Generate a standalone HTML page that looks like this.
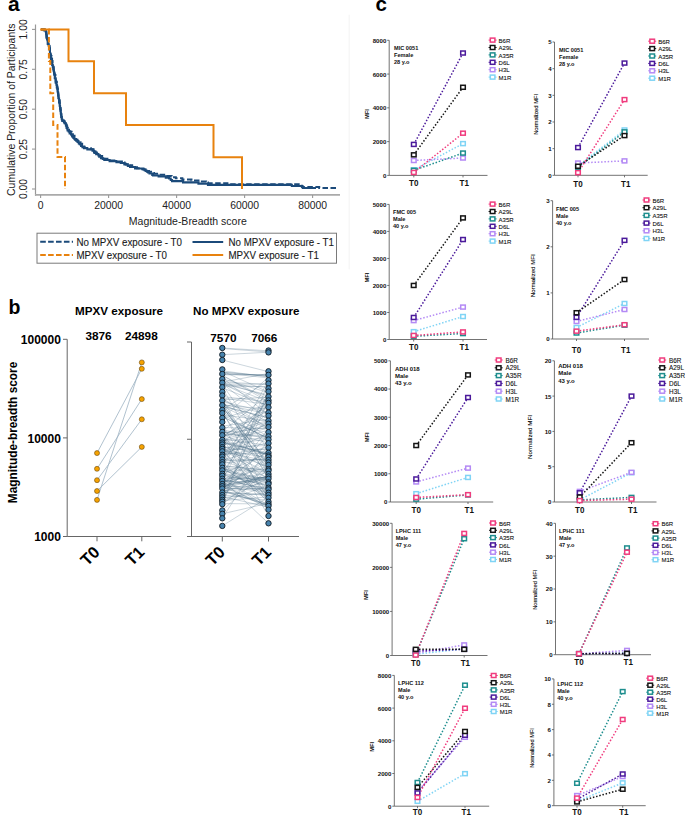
<!DOCTYPE html><html><head><meta charset="utf-8"><style>html,body{margin:0;padding:0;background:#fff;}svg{display:block;}text{font-family:"Liberation Sans",sans-serif;}</style></head><body>
<svg width="685" height="816" viewBox="0 0 685 816">
<rect width="685" height="816" fill="#fff"/>
<line x1="349.2" y1="14.7" x2="349.2" y2="269.4" stroke="#f3f3f3" stroke-width="1"/>
<text x="8.00" y="11.10" font-size="21" text-anchor="start" font-weight="bold" fill="#000" >a</text>
<line x1="35.50" y1="24.50" x2="35.50" y2="195.80" stroke="#999" stroke-width="1.2" />
<line x1="35.00" y1="194.90" x2="340.00" y2="194.90" stroke="#aaa" stroke-width="1.8" />
<line x1="32.00" y1="29.40" x2="35.50" y2="29.40" stroke="#999" stroke-width="1.1" />
<text transform="translate(27.4,29.40) rotate(-90)" font-size="10.4" text-anchor="middle" fill="#222">1.00</text>
<line x1="32.00" y1="69.30" x2="35.50" y2="69.30" stroke="#999" stroke-width="1.1" />
<text transform="translate(27.4,69.30) rotate(-90)" font-size="10.4" text-anchor="middle" fill="#222">0.75</text>
<line x1="32.00" y1="109.20" x2="35.50" y2="109.20" stroke="#999" stroke-width="1.1" />
<text transform="translate(27.4,109.20) rotate(-90)" font-size="10.4" text-anchor="middle" fill="#222">0.50</text>
<line x1="32.00" y1="149.10" x2="35.50" y2="149.10" stroke="#999" stroke-width="1.1" />
<text transform="translate(27.4,149.10) rotate(-90)" font-size="10.4" text-anchor="middle" fill="#222">0.25</text>
<line x1="32.00" y1="189.00" x2="35.50" y2="189.00" stroke="#999" stroke-width="1.1" />
<text transform="translate(27.4,189.00) rotate(-90)" font-size="10.4" text-anchor="middle" fill="#222">0.00</text>
<line x1="40.60" y1="195.00" x2="40.60" y2="198.00" stroke="#999" stroke-width="1.1" />
<text x="40.60" y="208.60" font-size="10.4" text-anchor="middle" font-weight="normal" fill="#222" >0</text>
<line x1="108.60" y1="195.00" x2="108.60" y2="198.00" stroke="#999" stroke-width="1.1" />
<text x="108.60" y="208.60" font-size="10.4" text-anchor="middle" font-weight="normal" fill="#222" >20000</text>
<line x1="176.60" y1="195.00" x2="176.60" y2="198.00" stroke="#999" stroke-width="1.1" />
<text x="176.60" y="208.60" font-size="10.4" text-anchor="middle" font-weight="normal" fill="#222" >40000</text>
<line x1="244.60" y1="195.00" x2="244.60" y2="198.00" stroke="#999" stroke-width="1.1" />
<text x="244.60" y="208.60" font-size="10.4" text-anchor="middle" font-weight="normal" fill="#222" >60000</text>
<line x1="312.60" y1="195.00" x2="312.60" y2="198.00" stroke="#999" stroke-width="1.1" />
<text x="312.60" y="208.60" font-size="10.4" text-anchor="middle" font-weight="normal" fill="#222" >80000</text>
<text x="187.80" y="225.10" font-size="10.5" text-anchor="middle" font-weight="normal" fill="#222" >Magnitude-Breadth score</text>
<text transform="translate(15.3,109.8) rotate(-90)" font-size="10.45" text-anchor="middle" fill="#222">Cumulative Proportion of Participants</text>
<path d="M41.00,29.40 L43.80,29.40 L43.80,30.24 L45.79,30.24 L45.79,31.19 L45.79,31.19 L45.79,32.35 L46.42,32.35 L46.42,33.00 L46.42,33.00 L46.42,33.86 L46.57,33.86 L46.57,35.34 L46.87,35.34 L46.87,36.68 L46.87,36.68 L46.87,37.86 L47.78,37.86 L47.78,39.04 L47.89,39.04 L47.89,40.11 L47.89,40.11 L47.89,41.32 L48.28,41.32 L48.28,42.60 L48.28,42.60 L48.28,43.49 L48.64,43.49 L48.64,44.86 L49.30,44.86 L49.30,46.11 L49.58,46.11 L49.58,47.35 L49.66,47.35 L49.66,48.32 L49.99,48.32 L49.99,49.33 L49.99,49.33 L49.99,50.71 L49.99,50.71 L49.99,51.46 L50.20,51.46 L50.20,52.92 L50.30,52.92 L50.30,54.09 L50.60,54.09 L50.60,55.15 L50.97,55.15 L50.97,56.09 L51.50,56.09 L51.50,57.22 L51.75,57.22 L51.75,58.43 L52.06,58.43 L52.06,59.79 L52.06,59.79 L52.06,61.00 L52.51,61.00 L52.51,62.37 L52.51,62.37 L52.51,63.77 L52.51,63.77 L52.51,65.01 L52.92,65.01 L52.92,66.35 L52.92,66.35 L52.92,67.23 L53.79,67.23 L53.79,68.59 L53.79,68.59 L53.79,69.30 L53.79,69.30 L53.79,70.28 L54.10,70.28 L54.10,71.17 L54.10,71.17 L54.10,72.55 L54.10,72.55 L54.10,73.70 L54.47,73.70 L54.47,74.95 L55.42,74.95 L55.42,76.33 L55.66,76.33 L55.66,77.40 L55.66,77.40 L55.66,78.29 L55.66,78.29 L55.66,79.44 L55.69,79.44 L55.69,80.24 L55.69,80.24 L55.69,81.40 L56.51,81.40 L56.51,82.07 L56.77,82.07 L56.77,82.97 L56.77,82.97 L56.77,84.37 L56.79,84.37 L56.79,85.39 L57.09,85.39 L57.09,86.57 L57.32,86.57 L57.32,87.68 L57.48,87.68 L57.48,89.12 L57.87,89.12 L57.87,90.12 L57.87,90.12 L57.87,90.96 L58.00,90.96 L58.00,92.42 L58.00,92.42 L58.00,93.52 L58.35,93.52 L58.35,94.51 L58.48,94.51 L58.48,95.16 L58.48,95.16 L58.48,96.34 L58.67,96.34 L58.67,97.50 L58.73,97.50 L58.73,98.72 L59.29,98.72 L59.29,99.95 L59.29,99.95 L59.29,100.61 L59.80,100.61 L59.80,101.82 L59.80,101.82 L59.80,102.67 L59.80,102.67 L59.80,103.80 L59.80,103.80 L59.80,104.75 L60.03,104.75 L60.03,105.70 L60.03,105.70 L60.03,106.59 L60.03,106.59 L60.03,107.88 L60.67,107.88 L60.67,109.00 L60.67,109.00 L60.67,109.90 L60.67,109.90 L60.67,111.21 L60.80,111.21 L60.80,112.01 L60.80,112.01 L60.80,113.24 L60.99,113.24 L60.99,114.15 L61.28,114.15 L61.28,115.49 L61.28,115.49 L61.28,116.85 L61.81,116.85 L61.81,117.77 L61.81,117.77 L61.81,119.16 L61.81,119.16 L61.81,119.99 L62.56,119.99 L62.56,121.07 L64.53,121.07 L64.53,122.39 L64.76,122.39 L64.76,123.18 L66.21,123.18 L66.21,124.50 L66.45,124.50 L66.45,125.82 L66.70,125.82 L66.70,126.57 L67.21,126.57 L67.21,127.88 L67.73,127.88 L67.73,128.81 L68.13,128.81 L68.13,129.80 L69.02,129.80 L69.02,131.22 L70.37,131.22 L70.37,131.86 L71.62,131.86 L71.62,133.24 L72.45,133.24 L72.45,134.24 L72.88,134.24 L72.88,135.67 L74.53,135.67 L74.53,136.93 L75.19,136.93 L75.19,138.13 L75.73,138.13 L75.73,139.01 L76.14,139.01 L76.14,139.84 L77.44,139.84 L77.44,140.98 L78.50,140.98 L78.50,142.30 L80.52,142.30 L80.52,143.70 L82.14,143.70 L82.14,145.12 L83.42,145.12 L83.42,146.52 L84.33,146.52 L84.33,147.17 L84.78,147.17 L84.78,147.95 L90.68,147.95 L90.68,149.15 L93.55,149.15 L93.55,150.13 L94.07,150.13 L94.07,151.29 L95.41,151.29 L95.41,152.14 L96.53,152.14 L96.53,153.18 L97.11,153.18 L97.11,154.11 L99.08,154.11 L99.08,155.20 L100.03,155.20 L100.03,155.99 L102.17,155.99 L102.17,157.40 L103.64,157.40 L103.64,158.74 L107.40,158.74 L107.40,159.91 L109.99,159.91 L109.99,160.58 L117.35,160.58 L117.35,161.45 L121.90,161.45 L121.90,162.44 L124.56,162.44 L124.56,163.74 L126.02,163.74 L126.02,164.42 L127.42,164.42 L127.42,165.16 L132.15,165.16 L132.15,166.62 L134.12,166.62 L134.12,167.33 L136.99,167.33 L136.99,168.24 L140.76,168.24 L140.76,169.17 L144.55,169.17 L144.55,170.30 L146.72,170.30 L146.72,171.10 L148.99,171.10 L148.99,171.84 L152.24,171.84 L152.24,173.09 L153.98,173.09 L153.98,173.79 L158.95,173.79 L158.95,174.74 L165.27,174.74 L165.27,176.04 L171.63,176.04 L171.63,177.36 L175.81,177.36 L175.81,178.36 L182.34,178.36 L182.34,179.42 L191.48,179.42 L191.48,180.41 L201.87,180.41 L201.87,181.44 L206.13,181.44 L206.13,182.53 L207.98,182.53 L207.98,183.22 L227.38,183.22 L227.38,184.22 L300.27,184.22 L300.27,185.65 L301.90,185.65 L301.90,187.05 L319.22,187.05 L319.22,187.91 L336.31,187.91 L336.31,188.30 L336.00,188.30" fill="none" stroke="#1B4A7A" stroke-width="2" stroke-dasharray="5.5 2.5"/>
<path d="M41.00,29.40 L44.73,29.40 L44.73,30.56 L45.88,30.56 L45.88,31.87 L46.14,31.87 L46.14,33.14 L46.14,33.14 L46.14,33.80 L46.32,33.80 L46.32,35.23 L46.32,35.23 L46.32,36.63 L46.46,36.63 L46.46,37.67 L47.02,37.67 L47.02,38.77 L47.02,38.77 L47.02,39.41 L47.70,39.41 L47.70,40.29 L47.70,40.29 L47.70,41.57 L47.70,41.57 L47.70,42.88 L47.74,42.88 L47.74,44.04 L48.61,44.04 L48.61,44.68 L48.61,44.68 L48.61,45.49 L49.06,45.49 L49.06,46.96 L49.32,46.96 L49.32,47.84 L49.32,47.84 L49.32,48.94 L49.68,48.94 L49.68,49.75 L49.95,49.75 L49.95,50.97 L49.95,50.97 L49.95,52.36 L49.95,52.36 L49.95,53.30 L49.95,53.30 L49.95,54.06 L50.37,54.06 L50.37,54.96 L50.57,54.96 L50.57,55.59 L50.57,55.59 L50.57,56.52 L50.79,56.52 L50.79,57.85 L50.96,57.85 L50.96,58.75 L50.96,58.75 L50.96,59.98 L51.00,59.98 L51.00,61.45 L52.06,61.45 L52.06,62.72 L52.12,62.72 L52.12,63.37 L52.12,63.37 L52.12,64.32 L52.12,64.32 L52.12,64.96 L52.78,64.96 L52.78,65.75 L52.78,65.75 L52.78,66.55 L53.22,66.55 L53.22,67.98 L53.22,67.98 L53.22,68.91 L53.46,68.91 L53.46,69.99 L53.59,69.99 L53.59,70.71 L53.97,70.71 L53.97,72.03 L54.20,72.03 L54.20,72.69 L54.20,72.69 L54.20,73.41 L54.57,73.41 L54.57,74.56 L54.78,74.56 L54.78,75.48 L54.78,75.48 L54.78,76.58 L54.78,76.58 L54.78,77.49 L54.78,77.49 L54.78,78.19 L55.70,78.19 L55.70,79.41 L55.70,79.41 L55.70,80.18 L55.70,80.18 L55.70,81.66 L55.70,81.66 L55.70,82.64 L56.39,82.64 L56.39,83.78 L56.39,83.78 L56.39,84.80 L56.80,84.80 L56.80,85.48 L56.80,85.48 L56.80,86.15 L56.80,86.15 L56.80,87.49 L57.45,87.49 L57.45,88.75 L57.51,88.75 L57.51,89.92 L57.51,89.92 L57.51,90.65 L57.77,90.65 L57.77,91.41 L57.77,91.41 L57.77,92.29 L58.12,92.29 L58.12,93.78 L58.12,93.78 L58.12,95.24 L58.36,95.24 L58.36,96.29 L58.36,96.29 L58.36,97.33 L58.36,97.33 L58.36,98.31 L59.04,98.31 L59.04,99.27 L59.04,99.27 L59.04,100.72 L59.04,100.72 L59.04,101.78 L59.04,101.78 L59.04,102.49 L59.61,102.49 L59.61,103.79 L59.67,103.79 L59.67,104.73 L59.78,104.73 L59.78,106.02 L60.03,106.02 L60.03,107.22 L60.12,107.22 L60.12,108.17 L60.12,108.17 L60.12,109.04 L60.42,109.04 L60.42,110.33 L60.80,110.33 L60.80,111.21 L60.80,111.21 L60.80,112.40 L60.80,112.40 L60.80,113.05 L60.90,113.05 L60.90,113.90 L61.18,113.90 L61.18,114.92 L61.33,114.92 L61.33,116.11 L61.33,116.11 L61.33,117.04 L61.66,117.04 L61.66,118.30 L61.81,118.30 L61.81,119.24 L62.20,119.24 L62.20,120.61 L63.93,120.61 L63.93,122.07 L64.58,122.07 L64.58,123.15 L65.66,123.15 L65.66,123.92 L65.91,123.92 L65.91,125.36 L66.58,125.36 L66.58,126.58 L66.58,126.58 L66.58,127.83 L67.33,127.83 L67.33,129.13 L67.59,129.13 L67.59,130.33 L68.62,130.33 L68.62,131.50 L69.62,131.50 L69.62,132.67 L69.65,132.67 L69.65,133.33 L71.05,133.33 L71.05,134.34 L71.80,134.34 L71.80,135.16 L72.13,135.16 L72.13,136.33 L73.18,136.33 L73.18,137.37 L73.65,137.37 L73.65,138.05 L74.45,138.05 L74.45,138.96 L74.97,138.96 L74.97,139.76 L76.17,139.76 L76.17,140.79 L77.53,140.79 L77.53,141.94 L78.68,141.94 L78.68,142.78 L78.82,142.78 L78.82,143.42 L79.70,143.42 L79.70,144.29 L80.85,144.29 L80.85,145.02 L81.05,145.02 L81.05,145.98 L82.44,145.98 L82.44,147.13 L83.94,147.13 L83.94,148.23 L87.35,148.23 L87.35,149.36 L92.49,149.36 L92.49,150.69 L94.00,150.69 L94.00,152.01 L94.41,152.01 L94.41,152.96 L96.19,152.96 L96.19,154.11 L98.40,154.11 L98.40,155.55 L99.21,155.55 L99.21,156.71 L100.96,156.71 L100.96,158.10 L102.76,158.10 L102.76,158.83 L104.30,158.83 L104.30,159.98 L109.60,159.98 L109.60,161.15 L116.45,161.15 L116.45,162.11 L120.76,162.11 L120.76,162.94 L124.46,162.94 L124.46,164.40 L127.84,164.40 L127.84,165.85 L130.06,165.85 L130.06,166.99 L135.10,166.99 L135.10,168.46 L143.45,168.46 L143.45,169.45 L145.71,169.45 L145.71,170.92 L146.94,170.92 L146.94,171.80 L148.13,171.80 L148.13,172.53 L149.50,172.53 L149.50,173.55 L152.24,173.55 L152.24,174.85 L153.05,174.85 L153.05,175.49 L158.62,175.49 L158.62,176.36 L165.78,176.36 L165.78,177.66 L169.17,177.66 L169.17,178.52 L170.73,178.52 L170.73,180.00 L172.03,180.00 L172.03,181.15 L183.05,181.15 L183.05,182.33 L198.44,182.33 L198.44,183.60 L207.96,183.60 L207.96,184.88 L291.82,184.88 L291.82,185.97 L302.46,185.97 L302.46,186.86 L302.80,186.86 L302.80,187.89 L303.09,187.89 L303.09,188.00 L316.00,188.00" fill="none" stroke="#1B4A7A" stroke-width="2.1"/>
<path d="M40.4,29.4 H68.5 V61.3 H94 V93.2 H126 V125 H213.5 V157.2 H242 V189" fill="none" stroke="#E8820E" stroke-width="2"/>
<path d="M40.4,29.4 H48.9 V61 H50.3 V93.2 H53.2 V125 H57.5 V157 H65 V189" fill="none" stroke="#E8820E" stroke-width="2" stroke-dasharray="5.5 2.5"/>
<rect x="37" y="233.2" width="299.5" height="30" fill="none" stroke="#7a7a7a" stroke-width="1"/>
<line x1="40.20" y1="241.80" x2="73.00" y2="241.80" stroke="#1B4A7A" stroke-width="2" stroke-dasharray="5.6 2.3"/>
<line x1="40.20" y1="254.90" x2="73.00" y2="254.90" stroke="#E8820E" stroke-width="2" stroke-dasharray="5.6 2.3"/>
<line x1="192.50" y1="242.00" x2="223.20" y2="242.00" stroke="#1B4A7A" stroke-width="2" />
<line x1="192.50" y1="255.00" x2="223.20" y2="255.00" stroke="#E8820E" stroke-width="2" />
<text x="76.50" y="246.30" font-size="10.3" text-anchor="start" font-weight="normal" fill="#1a1a1a" textLength="105.48" lengthAdjust="spacingAndGlyphs" stroke="#1a1a1a" stroke-width="0.12">No MPXV exposure - T0</text>
<text x="76.50" y="259.10" font-size="10.3" text-anchor="start" font-weight="normal" fill="#1a1a1a" textLength="90.31" lengthAdjust="spacingAndGlyphs" stroke="#1a1a1a" stroke-width="0.12">MPXV exposure - T0</text>
<text x="228.50" y="246.30" font-size="10.3" text-anchor="start" font-weight="normal" fill="#1a1a1a" textLength="105.48" lengthAdjust="spacingAndGlyphs" stroke="#1a1a1a" stroke-width="0.12">No MPXV exposure - T1</text>
<text x="228.50" y="259.10" font-size="10.3" text-anchor="start" font-weight="normal" fill="#1a1a1a" textLength="90.31" lengthAdjust="spacingAndGlyphs" stroke="#1a1a1a" stroke-width="0.12">MPXV exposure - T1</text>
<text x="8.50" y="313.70" font-size="19.5" text-anchor="start" font-weight="bold" fill="#000" >b</text>
<line x1="67.20" y1="339.30" x2="67.20" y2="536.50" stroke="#666" stroke-width="1" />
<line x1="67.20" y1="536.50" x2="171.20" y2="536.50" stroke="#666" stroke-width="1" />
<line x1="63.00" y1="339.30" x2="67.20" y2="339.30" stroke="#666" stroke-width="1" />
<text x="60.90" y="344.00" font-size="12" text-anchor="end" font-weight="bold" fill="#000" >100000</text>
<line x1="63.00" y1="437.90" x2="67.20" y2="437.90" stroke="#666" stroke-width="1" />
<text x="60.90" y="442.60" font-size="12" text-anchor="end" font-weight="bold" fill="#000" >10000</text>
<line x1="63.00" y1="536.50" x2="67.20" y2="536.50" stroke="#666" stroke-width="1" />
<text x="60.90" y="541.20" font-size="12" text-anchor="end" font-weight="bold" fill="#000" >1000</text>
<line x1="97.00" y1="536.50" x2="97.00" y2="541.30" stroke="#666" stroke-width="1" />
<line x1="141.80" y1="536.50" x2="141.80" y2="541.30" stroke="#666" stroke-width="1" />
<text transform="translate(16.7,432.5) rotate(-90)" font-size="11.85" font-weight="bold" text-anchor="middle">Magnitude-breadth score</text>
<text x="119.10" y="314.70" font-size="11.2" text-anchor="middle" font-weight="bold" fill="#000" textLength="88" lengthAdjust="spacingAndGlyphs">MPXV exposure</text>
<text x="98.50" y="339.80" font-size="11.8" text-anchor="middle" font-weight="bold" fill="#000" >3876</text>
<text x="141.30" y="339.80" font-size="11.8" text-anchor="middle" font-weight="bold" fill="#000" >24898</text>
<text transform="translate(100.8,553.2) rotate(-45)" font-size="16.5" font-weight="bold" text-anchor="end">T0</text>
<text transform="translate(145.6,553.2) rotate(-45)" font-size="16.5" font-weight="bold" text-anchor="end">T1</text>
<line x1="97.00" y1="453.10" x2="141.80" y2="368.80" stroke="#9db3c3" stroke-width="0.8" />
<line x1="97.00" y1="468.80" x2="141.80" y2="399.10" stroke="#9db3c3" stroke-width="0.8" />
<line x1="97.00" y1="480.20" x2="141.80" y2="419.30" stroke="#9db3c3" stroke-width="0.8" />
<line x1="97.00" y1="491.00" x2="141.80" y2="446.90" stroke="#9db3c3" stroke-width="0.8" />
<line x1="97.00" y1="499.90" x2="141.80" y2="362.40" stroke="#9db3c3" stroke-width="0.8" />
<circle cx="97" cy="453.1" r="2.5" fill="#F5A200" stroke="#6b4a10" stroke-width="0.6"/>
<circle cx="141.8" cy="368.8" r="2.5" fill="#F5A200" stroke="#6b4a10" stroke-width="0.6"/>
<circle cx="97" cy="468.8" r="2.5" fill="#F5A200" stroke="#6b4a10" stroke-width="0.6"/>
<circle cx="141.8" cy="399.1" r="2.5" fill="#F5A200" stroke="#6b4a10" stroke-width="0.6"/>
<circle cx="97" cy="480.2" r="2.5" fill="#F5A200" stroke="#6b4a10" stroke-width="0.6"/>
<circle cx="141.8" cy="419.3" r="2.5" fill="#F5A200" stroke="#6b4a10" stroke-width="0.6"/>
<circle cx="97" cy="491" r="2.5" fill="#F5A200" stroke="#6b4a10" stroke-width="0.6"/>
<circle cx="141.8" cy="446.9" r="2.5" fill="#F5A200" stroke="#6b4a10" stroke-width="0.6"/>
<circle cx="97" cy="499.9" r="2.5" fill="#F5A200" stroke="#6b4a10" stroke-width="0.6"/>
<circle cx="141.8" cy="362.4" r="2.5" fill="#F5A200" stroke="#6b4a10" stroke-width="0.6"/>
<line x1="191.50" y1="342.00" x2="191.50" y2="536.50" stroke="#666" stroke-width="1" />
<line x1="187.00" y1="536.50" x2="299.00" y2="536.50" stroke="#666" stroke-width="1" />
<line x1="187.00" y1="342.00" x2="191.50" y2="342.00" stroke="#666" stroke-width="1" />
<line x1="187.00" y1="439.25" x2="191.50" y2="439.25" stroke="#666" stroke-width="1" />
<line x1="187.00" y1="536.50" x2="191.50" y2="536.50" stroke="#666" stroke-width="1" />
<line x1="222.30" y1="536.50" x2="222.30" y2="541.50" stroke="#666" stroke-width="1" />
<line x1="268.50" y1="536.50" x2="268.50" y2="541.50" stroke="#666" stroke-width="1" />
<text x="246.20" y="314.90" font-size="11.2" text-anchor="middle" font-weight="bold" fill="#000" textLength="106.3" lengthAdjust="spacingAndGlyphs">No MPXV exposure</text>
<text x="223.40" y="341.50" font-size="11.8" text-anchor="middle" font-weight="bold" fill="#000" >7570</text>
<text x="264.30" y="341.50" font-size="11.8" text-anchor="middle" font-weight="bold" fill="#000" >7066</text>
<text transform="translate(226.1,553.2) rotate(-45)" font-size="16.5" font-weight="bold" text-anchor="end">T0</text>
<text transform="translate(272.3,553.2) rotate(-45)" font-size="16.5" font-weight="bold" text-anchor="end">T1</text>
<line x1="222.30" y1="348.00" x2="268.50" y2="350.80" stroke="rgba(72,108,134,0.40)" stroke-width="0.7" />
<line x1="222.30" y1="348.50" x2="268.50" y2="352.00" stroke="rgba(72,108,134,0.40)" stroke-width="0.7" />
<line x1="222.30" y1="354.70" x2="268.50" y2="352.20" stroke="rgba(72,108,134,0.40)" stroke-width="0.7" />
<line x1="222.30" y1="360.00" x2="268.50" y2="371.70" stroke="rgba(72,108,134,0.40)" stroke-width="0.7" />
<line x1="222.30" y1="465.51" x2="268.50" y2="380.03" stroke="rgba(72,108,134,0.40)" stroke-width="0.7" />
<line x1="222.30" y1="384.53" x2="268.50" y2="387.05" stroke="rgba(72,108,134,0.40)" stroke-width="0.7" />
<line x1="222.30" y1="444.75" x2="268.50" y2="439.18" stroke="rgba(72,108,134,0.40)" stroke-width="0.7" />
<line x1="222.30" y1="455.72" x2="268.50" y2="432.90" stroke="rgba(72,108,134,0.40)" stroke-width="0.7" />
<line x1="222.30" y1="403.60" x2="268.50" y2="427.39" stroke="rgba(72,108,134,0.40)" stroke-width="0.7" />
<line x1="222.30" y1="382.39" x2="268.50" y2="396.28" stroke="rgba(72,108,134,0.40)" stroke-width="0.7" />
<line x1="222.30" y1="452.28" x2="268.50" y2="422.15" stroke="rgba(72,108,134,0.40)" stroke-width="0.7" />
<line x1="222.30" y1="383.36" x2="268.50" y2="420.28" stroke="rgba(72,108,134,0.40)" stroke-width="0.7" />
<line x1="222.30" y1="446.72" x2="268.50" y2="453.96" stroke="rgba(72,108,134,0.40)" stroke-width="0.7" />
<line x1="222.30" y1="387.62" x2="268.50" y2="468.73" stroke="rgba(72,108,134,0.40)" stroke-width="0.7" />
<line x1="222.30" y1="486.61" x2="268.50" y2="486.74" stroke="rgba(72,108,134,0.40)" stroke-width="0.7" />
<line x1="222.30" y1="476.19" x2="268.50" y2="394.42" stroke="rgba(72,108,134,0.40)" stroke-width="0.7" />
<line x1="222.30" y1="383.88" x2="268.50" y2="384.33" stroke="rgba(72,108,134,0.40)" stroke-width="0.7" />
<line x1="222.30" y1="451.40" x2="268.50" y2="461.53" stroke="rgba(72,108,134,0.40)" stroke-width="0.7" />
<line x1="222.30" y1="448.51" x2="268.50" y2="467.39" stroke="rgba(72,108,134,0.40)" stroke-width="0.7" />
<line x1="222.30" y1="418.23" x2="268.50" y2="377.10" stroke="rgba(72,108,134,0.40)" stroke-width="0.7" />
<line x1="222.30" y1="442.27" x2="268.50" y2="454.27" stroke="rgba(72,108,134,0.40)" stroke-width="0.7" />
<line x1="222.30" y1="371.00" x2="268.50" y2="392.20" stroke="rgba(72,108,134,0.40)" stroke-width="0.7" />
<line x1="222.30" y1="487.26" x2="268.50" y2="491.93" stroke="rgba(72,108,134,0.40)" stroke-width="0.7" />
<line x1="222.30" y1="487.68" x2="268.50" y2="428.30" stroke="rgba(72,108,134,0.40)" stroke-width="0.7" />
<line x1="222.30" y1="434.01" x2="268.50" y2="435.49" stroke="rgba(72,108,134,0.40)" stroke-width="0.7" />
<line x1="222.30" y1="433.01" x2="268.50" y2="497.06" stroke="rgba(72,108,134,0.40)" stroke-width="0.7" />
<line x1="222.30" y1="409.88" x2="268.50" y2="380.58" stroke="rgba(72,108,134,0.40)" stroke-width="0.7" />
<line x1="222.30" y1="375.15" x2="268.50" y2="401.88" stroke="rgba(72,108,134,0.40)" stroke-width="0.7" />
<line x1="222.30" y1="431.53" x2="268.50" y2="394.16" stroke="rgba(72,108,134,0.40)" stroke-width="0.7" />
<line x1="222.30" y1="468.50" x2="268.50" y2="494.76" stroke="rgba(72,108,134,0.40)" stroke-width="0.7" />
<line x1="222.30" y1="478.90" x2="268.50" y2="507.85" stroke="rgba(72,108,134,0.40)" stroke-width="0.7" />
<line x1="222.30" y1="485.18" x2="268.50" y2="434.41" stroke="rgba(72,108,134,0.40)" stroke-width="0.7" />
<line x1="222.30" y1="440.73" x2="268.50" y2="430.37" stroke="rgba(72,108,134,0.40)" stroke-width="0.7" />
<line x1="222.30" y1="383.78" x2="268.50" y2="395.03" stroke="rgba(72,108,134,0.40)" stroke-width="0.7" />
<line x1="222.30" y1="497.69" x2="268.50" y2="492.63" stroke="rgba(72,108,134,0.40)" stroke-width="0.7" />
<line x1="222.30" y1="383.49" x2="268.50" y2="406.41" stroke="rgba(72,108,134,0.40)" stroke-width="0.7" />
<line x1="222.30" y1="396.60" x2="268.50" y2="401.71" stroke="rgba(72,108,134,0.40)" stroke-width="0.7" />
<line x1="222.30" y1="448.81" x2="268.50" y2="479.15" stroke="rgba(72,108,134,0.40)" stroke-width="0.7" />
<line x1="222.30" y1="436.48" x2="268.50" y2="424.70" stroke="rgba(72,108,134,0.40)" stroke-width="0.7" />
<line x1="222.30" y1="469.16" x2="268.50" y2="472.51" stroke="rgba(72,108,134,0.40)" stroke-width="0.7" />
<line x1="222.30" y1="404.32" x2="268.50" y2="413.88" stroke="rgba(72,108,134,0.40)" stroke-width="0.7" />
<line x1="222.30" y1="438.73" x2="268.50" y2="445.50" stroke="rgba(72,108,134,0.40)" stroke-width="0.7" />
<line x1="222.30" y1="372.42" x2="268.50" y2="375.86" stroke="rgba(72,108,134,0.40)" stroke-width="0.7" />
<line x1="222.30" y1="459.99" x2="268.50" y2="459.75" stroke="rgba(72,108,134,0.40)" stroke-width="0.7" />
<line x1="222.30" y1="441.60" x2="268.50" y2="460.03" stroke="rgba(72,108,134,0.40)" stroke-width="0.7" />
<line x1="222.30" y1="480.71" x2="268.50" y2="450.74" stroke="rgba(72,108,134,0.40)" stroke-width="0.7" />
<line x1="222.30" y1="437.07" x2="268.50" y2="405.17" stroke="rgba(72,108,134,0.40)" stroke-width="0.7" />
<line x1="222.30" y1="470.74" x2="268.50" y2="481.27" stroke="rgba(72,108,134,0.40)" stroke-width="0.7" />
<line x1="222.30" y1="382.13" x2="268.50" y2="384.24" stroke="rgba(72,108,134,0.40)" stroke-width="0.7" />
<line x1="222.30" y1="485.12" x2="268.50" y2="447.19" stroke="rgba(72,108,134,0.40)" stroke-width="0.7" />
<line x1="222.30" y1="491.24" x2="268.50" y2="505.16" stroke="rgba(72,108,134,0.40)" stroke-width="0.7" />
<line x1="222.30" y1="378.66" x2="268.50" y2="392.69" stroke="rgba(72,108,134,0.40)" stroke-width="0.7" />
<line x1="222.30" y1="433.65" x2="268.50" y2="420.21" stroke="rgba(72,108,134,0.40)" stroke-width="0.7" />
<line x1="222.30" y1="436.07" x2="268.50" y2="410.22" stroke="rgba(72,108,134,0.40)" stroke-width="0.7" />
<line x1="222.30" y1="383.95" x2="268.50" y2="401.84" stroke="rgba(72,108,134,0.40)" stroke-width="0.7" />
<line x1="222.30" y1="384.54" x2="268.50" y2="450.19" stroke="rgba(72,108,134,0.40)" stroke-width="0.7" />
<line x1="222.30" y1="491.16" x2="268.50" y2="482.24" stroke="rgba(72,108,134,0.40)" stroke-width="0.7" />
<line x1="222.30" y1="429.83" x2="268.50" y2="438.82" stroke="rgba(72,108,134,0.40)" stroke-width="0.7" />
<line x1="222.30" y1="489.70" x2="268.50" y2="505.78" stroke="rgba(72,108,134,0.40)" stroke-width="0.7" />
<line x1="222.30" y1="492.35" x2="268.50" y2="495.37" stroke="rgba(72,108,134,0.40)" stroke-width="0.7" />
<line x1="222.30" y1="490.98" x2="268.50" y2="487.79" stroke="rgba(72,108,134,0.40)" stroke-width="0.7" />
<line x1="222.30" y1="473.42" x2="268.50" y2="497.99" stroke="rgba(72,108,134,0.40)" stroke-width="0.7" />
<line x1="222.30" y1="404.23" x2="268.50" y2="464.62" stroke="rgba(72,108,134,0.40)" stroke-width="0.7" />
<line x1="222.30" y1="458.77" x2="268.50" y2="420.04" stroke="rgba(72,108,134,0.40)" stroke-width="0.7" />
<line x1="222.30" y1="406.36" x2="268.50" y2="469.77" stroke="rgba(72,108,134,0.40)" stroke-width="0.7" />
<line x1="222.30" y1="494.69" x2="268.50" y2="500.49" stroke="rgba(72,108,134,0.40)" stroke-width="0.7" />
<line x1="222.30" y1="406.46" x2="268.50" y2="417.73" stroke="rgba(72,108,134,0.40)" stroke-width="0.7" />
<line x1="222.30" y1="479.16" x2="268.50" y2="490.10" stroke="rgba(72,108,134,0.40)" stroke-width="0.7" />
<line x1="222.30" y1="405.88" x2="268.50" y2="418.05" stroke="rgba(72,108,134,0.40)" stroke-width="0.7" />
<line x1="222.30" y1="484.71" x2="268.50" y2="476.44" stroke="rgba(72,108,134,0.40)" stroke-width="0.7" />
<line x1="222.30" y1="466.77" x2="268.50" y2="393.54" stroke="rgba(72,108,134,0.40)" stroke-width="0.7" />
<line x1="222.30" y1="448.21" x2="268.50" y2="474.08" stroke="rgba(72,108,134,0.40)" stroke-width="0.7" />
<line x1="222.30" y1="460.52" x2="268.50" y2="446.28" stroke="rgba(72,108,134,0.40)" stroke-width="0.7" />
<line x1="222.30" y1="434.73" x2="268.50" y2="436.55" stroke="rgba(72,108,134,0.40)" stroke-width="0.7" />
<line x1="222.30" y1="454.70" x2="268.50" y2="448.37" stroke="rgba(72,108,134,0.40)" stroke-width="0.7" />
<line x1="222.30" y1="462.99" x2="268.50" y2="501.42" stroke="rgba(72,108,134,0.40)" stroke-width="0.7" />
<line x1="222.30" y1="473.03" x2="268.50" y2="482.46" stroke="rgba(72,108,134,0.40)" stroke-width="0.7" />
<line x1="222.30" y1="474.31" x2="268.50" y2="452.30" stroke="rgba(72,108,134,0.40)" stroke-width="0.7" />
<line x1="222.30" y1="450.33" x2="268.50" y2="457.65" stroke="rgba(72,108,134,0.40)" stroke-width="0.7" />
<line x1="222.30" y1="414.51" x2="268.50" y2="439.03" stroke="rgba(72,108,134,0.40)" stroke-width="0.7" />
<line x1="222.30" y1="385.90" x2="268.50" y2="386.89" stroke="rgba(72,108,134,0.40)" stroke-width="0.7" />
<line x1="222.30" y1="433.14" x2="268.50" y2="427.45" stroke="rgba(72,108,134,0.40)" stroke-width="0.7" />
<line x1="222.30" y1="504.59" x2="268.50" y2="465.64" stroke="rgba(72,108,134,0.40)" stroke-width="0.7" />
<line x1="222.30" y1="387.79" x2="268.50" y2="405.91" stroke="rgba(72,108,134,0.40)" stroke-width="0.7" />
<line x1="222.30" y1="399.22" x2="268.50" y2="474.96" stroke="rgba(72,108,134,0.40)" stroke-width="0.7" />
<line x1="222.30" y1="370.75" x2="268.50" y2="377.07" stroke="rgba(72,108,134,0.40)" stroke-width="0.7" />
<line x1="222.30" y1="377.64" x2="268.50" y2="415.09" stroke="rgba(72,108,134,0.40)" stroke-width="0.7" />
<line x1="222.30" y1="404.95" x2="268.50" y2="409.24" stroke="rgba(72,108,134,0.40)" stroke-width="0.7" />
<line x1="222.30" y1="442.42" x2="268.50" y2="453.07" stroke="rgba(72,108,134,0.40)" stroke-width="0.7" />
<line x1="222.30" y1="476.80" x2="268.50" y2="480.46" stroke="rgba(72,108,134,0.40)" stroke-width="0.7" />
<line x1="222.30" y1="439.32" x2="268.50" y2="455.53" stroke="rgba(72,108,134,0.40)" stroke-width="0.7" />
<line x1="222.30" y1="402.08" x2="268.50" y2="478.62" stroke="rgba(72,108,134,0.40)" stroke-width="0.7" />
<line x1="222.30" y1="467.83" x2="268.50" y2="486.40" stroke="rgba(72,108,134,0.40)" stroke-width="0.7" />
<line x1="222.30" y1="485.36" x2="268.50" y2="477.88" stroke="rgba(72,108,134,0.40)" stroke-width="0.7" />
<line x1="222.30" y1="398.07" x2="268.50" y2="404.45" stroke="rgba(72,108,134,0.40)" stroke-width="0.7" />
<line x1="222.30" y1="497.79" x2="268.50" y2="440.86" stroke="rgba(72,108,134,0.40)" stroke-width="0.7" />
<line x1="222.30" y1="398.02" x2="268.50" y2="428.98" stroke="rgba(72,108,134,0.40)" stroke-width="0.7" />
<line x1="222.30" y1="503.58" x2="268.50" y2="503.94" stroke="rgba(72,108,134,0.40)" stroke-width="0.7" />
<line x1="222.30" y1="424.35" x2="268.50" y2="503.10" stroke="rgba(72,108,134,0.40)" stroke-width="0.7" />
<line x1="222.30" y1="418.48" x2="268.50" y2="404.46" stroke="rgba(72,108,134,0.40)" stroke-width="0.7" />
<line x1="222.30" y1="374.47" x2="268.50" y2="374.83" stroke="rgba(72,108,134,0.40)" stroke-width="0.7" />
<line x1="222.30" y1="481.32" x2="268.50" y2="482.18" stroke="rgba(72,108,134,0.40)" stroke-width="0.7" />
<line x1="222.30" y1="501.12" x2="268.50" y2="478.03" stroke="rgba(72,108,134,0.40)" stroke-width="0.7" />
<line x1="222.30" y1="474.49" x2="268.50" y2="485.99" stroke="rgba(72,108,134,0.40)" stroke-width="0.7" />
<line x1="222.30" y1="414.78" x2="268.50" y2="420.97" stroke="rgba(72,108,134,0.40)" stroke-width="0.7" />
<line x1="222.30" y1="479.82" x2="268.50" y2="396.08" stroke="rgba(72,108,134,0.40)" stroke-width="0.7" />
<line x1="222.30" y1="465.98" x2="268.50" y2="470.09" stroke="rgba(72,108,134,0.40)" stroke-width="0.7" />
<line x1="222.30" y1="456.23" x2="268.50" y2="480.95" stroke="rgba(72,108,134,0.40)" stroke-width="0.7" />
<line x1="222.30" y1="409.54" x2="268.50" y2="436.76" stroke="rgba(72,108,134,0.40)" stroke-width="0.7" />
<line x1="222.30" y1="478.66" x2="268.50" y2="505.02" stroke="rgba(72,108,134,0.40)" stroke-width="0.7" />
<line x1="222.30" y1="470.52" x2="268.50" y2="479.34" stroke="rgba(72,108,134,0.40)" stroke-width="0.7" />
<line x1="222.30" y1="479.54" x2="268.50" y2="488.91" stroke="rgba(72,108,134,0.40)" stroke-width="0.7" />
<line x1="222.30" y1="478.68" x2="268.50" y2="477.36" stroke="rgba(72,108,134,0.40)" stroke-width="0.7" />
<line x1="222.30" y1="482.39" x2="268.50" y2="472.42" stroke="rgba(72,108,134,0.40)" stroke-width="0.7" />
<line x1="222.30" y1="440.91" x2="268.50" y2="454.83" stroke="rgba(72,108,134,0.40)" stroke-width="0.7" />
<line x1="222.30" y1="450.13" x2="268.50" y2="503.16" stroke="rgba(72,108,134,0.40)" stroke-width="0.7" />
<line x1="222.30" y1="373.04" x2="268.50" y2="377.88" stroke="rgba(72,108,134,0.40)" stroke-width="0.7" />
<line x1="222.30" y1="399.78" x2="268.50" y2="421.89" stroke="rgba(72,108,134,0.40)" stroke-width="0.7" />
<line x1="222.30" y1="500.64" x2="268.50" y2="496.88" stroke="rgba(72,108,134,0.40)" stroke-width="0.7" />
<line x1="222.30" y1="503.33" x2="268.50" y2="381.21" stroke="rgba(72,108,134,0.40)" stroke-width="0.7" />
<line x1="222.30" y1="401.63" x2="268.50" y2="412.41" stroke="rgba(72,108,134,0.40)" stroke-width="0.7" />
<line x1="222.30" y1="468.65" x2="268.50" y2="480.47" stroke="rgba(72,108,134,0.40)" stroke-width="0.7" />
<line x1="222.30" y1="456.96" x2="268.50" y2="411.42" stroke="rgba(72,108,134,0.40)" stroke-width="0.7" />
<line x1="222.30" y1="504.55" x2="268.50" y2="391.07" stroke="rgba(72,108,134,0.40)" stroke-width="0.7" />
<line x1="222.30" y1="497.76" x2="268.50" y2="400.73" stroke="rgba(72,108,134,0.40)" stroke-width="0.7" />
<line x1="222.30" y1="484.32" x2="268.50" y2="508.58" stroke="rgba(72,108,134,0.40)" stroke-width="0.7" />
<line x1="222.30" y1="480.96" x2="268.50" y2="466.19" stroke="rgba(72,108,134,0.40)" stroke-width="0.7" />
<line x1="222.30" y1="434.06" x2="268.50" y2="455.46" stroke="rgba(72,108,134,0.40)" stroke-width="0.7" />
<line x1="222.30" y1="467.51" x2="268.50" y2="497.48" stroke="rgba(72,108,134,0.40)" stroke-width="0.7" />
<line x1="222.30" y1="445.59" x2="268.50" y2="468.09" stroke="rgba(72,108,134,0.40)" stroke-width="0.7" />
<line x1="222.30" y1="480.83" x2="268.50" y2="476.88" stroke="rgba(72,108,134,0.40)" stroke-width="0.7" />
<line x1="222.30" y1="488.19" x2="268.50" y2="458.83" stroke="rgba(72,108,134,0.40)" stroke-width="0.7" />
<line x1="222.30" y1="413.47" x2="268.50" y2="476.19" stroke="rgba(72,108,134,0.40)" stroke-width="0.7" />
<line x1="222.30" y1="492.40" x2="268.50" y2="494.64" stroke="rgba(72,108,134,0.40)" stroke-width="0.7" />
<line x1="222.30" y1="439.24" x2="268.50" y2="428.10" stroke="rgba(72,108,134,0.40)" stroke-width="0.7" />
<line x1="222.30" y1="399.65" x2="268.50" y2="397.17" stroke="rgba(72,108,134,0.40)" stroke-width="0.7" />
<line x1="222.30" y1="496.62" x2="268.50" y2="507.06" stroke="rgba(72,108,134,0.40)" stroke-width="0.7" />
<line x1="222.30" y1="484.34" x2="268.50" y2="490.98" stroke="rgba(72,108,134,0.40)" stroke-width="0.7" />
<line x1="222.30" y1="374.86" x2="268.50" y2="374.63" stroke="rgba(72,108,134,0.40)" stroke-width="0.7" />
<line x1="222.30" y1="486.91" x2="268.50" y2="476.36" stroke="rgba(72,108,134,0.40)" stroke-width="0.7" />
<line x1="222.30" y1="449.25" x2="268.50" y2="449.60" stroke="rgba(72,108,134,0.40)" stroke-width="0.7" />
<line x1="222.30" y1="485.89" x2="268.50" y2="457.56" stroke="rgba(72,108,134,0.40)" stroke-width="0.7" />
<line x1="222.30" y1="435.77" x2="268.50" y2="497.77" stroke="rgba(72,108,134,0.40)" stroke-width="0.7" />
<line x1="222.30" y1="460.55" x2="268.50" y2="477.61" stroke="rgba(72,108,134,0.40)" stroke-width="0.7" />
<line x1="222.30" y1="463.40" x2="268.50" y2="458.13" stroke="rgba(72,108,134,0.40)" stroke-width="0.7" />
<line x1="222.30" y1="465.60" x2="268.50" y2="470.59" stroke="rgba(72,108,134,0.40)" stroke-width="0.7" />
<line x1="222.30" y1="407.61" x2="268.50" y2="462.07" stroke="rgba(72,108,134,0.40)" stroke-width="0.7" />
<line x1="222.30" y1="431.60" x2="268.50" y2="442.80" stroke="rgba(72,108,134,0.40)" stroke-width="0.7" />
<line x1="222.30" y1="473.36" x2="268.50" y2="402.12" stroke="rgba(72,108,134,0.40)" stroke-width="0.7" />
<line x1="222.30" y1="426.20" x2="268.50" y2="419.13" stroke="rgba(72,108,134,0.40)" stroke-width="0.7" />
<line x1="222.30" y1="490.99" x2="268.50" y2="503.88" stroke="rgba(72,108,134,0.40)" stroke-width="0.7" />
<line x1="222.30" y1="375.47" x2="268.50" y2="399.54" stroke="rgba(72,108,134,0.40)" stroke-width="0.7" />
<line x1="222.30" y1="488.25" x2="268.50" y2="488.86" stroke="rgba(72,108,134,0.40)" stroke-width="0.7" />
<line x1="222.30" y1="406.27" x2="268.50" y2="471.26" stroke="rgba(72,108,134,0.40)" stroke-width="0.7" />
<line x1="222.30" y1="416.90" x2="268.50" y2="438.07" stroke="rgba(72,108,134,0.40)" stroke-width="0.7" />
<line x1="222.30" y1="486.64" x2="268.50" y2="505.64" stroke="rgba(72,108,134,0.40)" stroke-width="0.7" />
<line x1="222.30" y1="416.50" x2="268.50" y2="438.71" stroke="rgba(72,108,134,0.40)" stroke-width="0.7" />
<line x1="222.30" y1="437.02" x2="268.50" y2="421.32" stroke="rgba(72,108,134,0.40)" stroke-width="0.7" />
<line x1="222.30" y1="485.94" x2="268.50" y2="475.97" stroke="rgba(72,108,134,0.40)" stroke-width="0.7" />
<line x1="222.30" y1="487.96" x2="268.50" y2="461.56" stroke="rgba(72,108,134,0.40)" stroke-width="0.7" />
<line x1="222.30" y1="467.49" x2="268.50" y2="471.74" stroke="rgba(72,108,134,0.40)" stroke-width="0.7" />
<line x1="222.30" y1="447.43" x2="268.50" y2="445.45" stroke="rgba(72,108,134,0.40)" stroke-width="0.7" />
<line x1="222.30" y1="382.15" x2="268.50" y2="373.41" stroke="rgba(72,108,134,0.40)" stroke-width="0.7" />
<line x1="222.30" y1="372.06" x2="268.50" y2="376.28" stroke="rgba(72,108,134,0.40)" stroke-width="0.7" />
<line x1="222.30" y1="454.06" x2="268.50" y2="453.37" stroke="rgba(72,108,134,0.40)" stroke-width="0.7" />
<line x1="222.30" y1="451.97" x2="268.50" y2="442.94" stroke="rgba(72,108,134,0.40)" stroke-width="0.7" />
<line x1="222.30" y1="489.01" x2="268.50" y2="476.44" stroke="rgba(72,108,134,0.40)" stroke-width="0.7" />
<line x1="222.30" y1="456.85" x2="268.50" y2="399.37" stroke="rgba(72,108,134,0.40)" stroke-width="0.7" />
<line x1="222.30" y1="501.92" x2="268.50" y2="485.41" stroke="rgba(72,108,134,0.40)" stroke-width="0.7" />
<line x1="222.30" y1="443.22" x2="268.50" y2="402.80" stroke="rgba(72,108,134,0.40)" stroke-width="0.7" />
<line x1="222.30" y1="473.37" x2="268.50" y2="486.56" stroke="rgba(72,108,134,0.40)" stroke-width="0.7" />
<line x1="222.30" y1="440.70" x2="268.50" y2="438.01" stroke="rgba(72,108,134,0.40)" stroke-width="0.7" />
<line x1="222.30" y1="491.55" x2="268.50" y2="477.76" stroke="rgba(72,108,134,0.40)" stroke-width="0.7" />
<line x1="222.30" y1="460.82" x2="268.50" y2="459.43" stroke="rgba(72,108,134,0.40)" stroke-width="0.7" />
<line x1="222.30" y1="405.89" x2="268.50" y2="429.48" stroke="rgba(72,108,134,0.40)" stroke-width="0.7" />
<line x1="222.30" y1="449.75" x2="268.50" y2="498.82" stroke="rgba(72,108,134,0.40)" stroke-width="0.7" />
<line x1="222.30" y1="427.46" x2="268.50" y2="428.68" stroke="rgba(72,108,134,0.40)" stroke-width="0.7" />
<line x1="222.30" y1="486.36" x2="268.50" y2="478.93" stroke="rgba(72,108,134,0.40)" stroke-width="0.7" />
<line x1="222.30" y1="410.86" x2="268.50" y2="496.99" stroke="rgba(72,108,134,0.40)" stroke-width="0.7" />
<line x1="222.30" y1="510.40" x2="268.50" y2="468.77" stroke="rgba(72,108,134,0.40)" stroke-width="0.7" />
<line x1="222.30" y1="513.80" x2="268.50" y2="503.26" stroke="rgba(72,108,134,0.40)" stroke-width="0.7" />
<line x1="222.30" y1="518.30" x2="268.50" y2="446.28" stroke="rgba(72,108,134,0.40)" stroke-width="0.7" />
<line x1="222.30" y1="525.90" x2="268.50" y2="497.02" stroke="rgba(72,108,134,0.40)" stroke-width="0.7" />
<line x1="222.30" y1="436.67" x2="268.50" y2="516.00" stroke="rgba(72,108,134,0.40)" stroke-width="0.7" />
<line x1="222.30" y1="479.89" x2="268.50" y2="523.30" stroke="rgba(72,108,134,0.40)" stroke-width="0.7" />
<circle cx="222.3" cy="348.0" r="2.7" fill="#4884AE" stroke="#101a22" stroke-width="0.9"/>
<circle cx="222.3" cy="354.7" r="2.7" fill="#4884AE" stroke="#101a22" stroke-width="0.9"/>
<circle cx="222.3" cy="360.0" r="2.7" fill="#4884AE" stroke="#101a22" stroke-width="0.9"/>
<circle cx="222.3" cy="369.4" r="2.7" fill="#4884AE" stroke="#101a22" stroke-width="0.9"/>
<circle cx="222.3" cy="374.0" r="2.7" fill="#4884AE" stroke="#101a22" stroke-width="0.9"/>
<circle cx="222.3" cy="379.1" r="2.7" fill="#4884AE" stroke="#101a22" stroke-width="0.9"/>
<circle cx="222.3" cy="382.7" r="2.7" fill="#4884AE" stroke="#101a22" stroke-width="0.9"/>
<circle cx="222.3" cy="387.2" r="2.7" fill="#4884AE" stroke="#101a22" stroke-width="0.9"/>
<circle cx="222.3" cy="391.8" r="2.7" fill="#4884AE" stroke="#101a22" stroke-width="0.9"/>
<circle cx="222.3" cy="395.5" r="2.7" fill="#4884AE" stroke="#101a22" stroke-width="0.9"/>
<circle cx="222.3" cy="400.6" r="2.7" fill="#4884AE" stroke="#101a22" stroke-width="0.9"/>
<circle cx="222.3" cy="405.2" r="2.7" fill="#4884AE" stroke="#101a22" stroke-width="0.9"/>
<circle cx="222.3" cy="409.9" r="2.7" fill="#4884AE" stroke="#101a22" stroke-width="0.9"/>
<circle cx="222.3" cy="413.1" r="2.7" fill="#4884AE" stroke="#101a22" stroke-width="0.9"/>
<circle cx="222.3" cy="417.9" r="2.7" fill="#4884AE" stroke="#101a22" stroke-width="0.9"/>
<circle cx="222.3" cy="422.0" r="2.7" fill="#4884AE" stroke="#101a22" stroke-width="0.9"/>
<circle cx="222.3" cy="427.7" r="2.7" fill="#4884AE" stroke="#101a22" stroke-width="0.9"/>
<circle cx="222.3" cy="431.9" r="2.7" fill="#4884AE" stroke="#101a22" stroke-width="0.9"/>
<circle cx="222.3" cy="435.2" r="2.7" fill="#4884AE" stroke="#101a22" stroke-width="0.9"/>
<circle cx="222.3" cy="439.9" r="2.7" fill="#4884AE" stroke="#101a22" stroke-width="0.9"/>
<circle cx="222.3" cy="442.5" r="2.7" fill="#4884AE" stroke="#101a22" stroke-width="0.9"/>
<circle cx="222.3" cy="444.5" r="2.7" fill="#4884AE" stroke="#101a22" stroke-width="0.9"/>
<circle cx="222.3" cy="447.1" r="2.7" fill="#4884AE" stroke="#101a22" stroke-width="0.9"/>
<circle cx="222.3" cy="448.9" r="2.7" fill="#4884AE" stroke="#101a22" stroke-width="0.9"/>
<circle cx="222.3" cy="451.3" r="2.7" fill="#4884AE" stroke="#101a22" stroke-width="0.9"/>
<circle cx="222.3" cy="454.8" r="2.7" fill="#4884AE" stroke="#101a22" stroke-width="0.9"/>
<circle cx="222.3" cy="456.6" r="2.7" fill="#4884AE" stroke="#101a22" stroke-width="0.9"/>
<circle cx="222.3" cy="459.5" r="2.7" fill="#4884AE" stroke="#101a22" stroke-width="0.9"/>
<circle cx="222.3" cy="462.2" r="2.7" fill="#4884AE" stroke="#101a22" stroke-width="0.9"/>
<circle cx="222.3" cy="464.4" r="2.7" fill="#4884AE" stroke="#101a22" stroke-width="0.9"/>
<circle cx="222.3" cy="467.8" r="2.7" fill="#4884AE" stroke="#101a22" stroke-width="0.9"/>
<circle cx="222.3" cy="470.4" r="2.7" fill="#4884AE" stroke="#101a22" stroke-width="0.9"/>
<circle cx="222.3" cy="473.8" r="2.7" fill="#4884AE" stroke="#101a22" stroke-width="0.9"/>
<circle cx="222.3" cy="475.8" r="2.7" fill="#4884AE" stroke="#101a22" stroke-width="0.9"/>
<circle cx="222.3" cy="478.7" r="2.7" fill="#4884AE" stroke="#101a22" stroke-width="0.9"/>
<circle cx="222.3" cy="481.0" r="2.7" fill="#4884AE" stroke="#101a22" stroke-width="0.9"/>
<circle cx="222.3" cy="484.0" r="2.7" fill="#4884AE" stroke="#101a22" stroke-width="0.9"/>
<circle cx="222.3" cy="486.2" r="2.7" fill="#4884AE" stroke="#101a22" stroke-width="0.9"/>
<circle cx="222.3" cy="488.5" r="2.7" fill="#4884AE" stroke="#101a22" stroke-width="0.9"/>
<circle cx="222.3" cy="492.5" r="2.7" fill="#4884AE" stroke="#101a22" stroke-width="0.9"/>
<circle cx="222.3" cy="495.1" r="2.7" fill="#4884AE" stroke="#101a22" stroke-width="0.9"/>
<circle cx="222.3" cy="497.4" r="2.7" fill="#4884AE" stroke="#101a22" stroke-width="0.9"/>
<circle cx="222.3" cy="499.8" r="2.7" fill="#4884AE" stroke="#101a22" stroke-width="0.9"/>
<circle cx="222.3" cy="501.7" r="2.7" fill="#4884AE" stroke="#101a22" stroke-width="0.9"/>
<circle cx="222.3" cy="504.2" r="2.7" fill="#4884AE" stroke="#101a22" stroke-width="0.9"/>
<circle cx="222.3" cy="510.4" r="2.7" fill="#4884AE" stroke="#101a22" stroke-width="0.9"/>
<circle cx="222.3" cy="513.8" r="2.7" fill="#4884AE" stroke="#101a22" stroke-width="0.9"/>
<circle cx="222.3" cy="518.3" r="2.7" fill="#4884AE" stroke="#101a22" stroke-width="0.9"/>
<circle cx="222.3" cy="525.9" r="2.7" fill="#4884AE" stroke="#101a22" stroke-width="0.9"/>
<circle cx="268.5" cy="350.5" r="2.7" fill="#4884AE" stroke="#101a22" stroke-width="0.9"/>
<circle cx="268.5" cy="352.4" r="2.7" fill="#4884AE" stroke="#101a22" stroke-width="0.9"/>
<circle cx="268.5" cy="371.3" r="2.7" fill="#4884AE" stroke="#101a22" stroke-width="0.9"/>
<circle cx="268.5" cy="374.9" r="2.7" fill="#4884AE" stroke="#101a22" stroke-width="0.9"/>
<circle cx="268.5" cy="380.2" r="2.7" fill="#4884AE" stroke="#101a22" stroke-width="0.9"/>
<circle cx="268.5" cy="383.6" r="2.7" fill="#4884AE" stroke="#101a22" stroke-width="0.9"/>
<circle cx="268.5" cy="388.4" r="2.7" fill="#4884AE" stroke="#101a22" stroke-width="0.9"/>
<circle cx="268.5" cy="391.6" r="2.7" fill="#4884AE" stroke="#101a22" stroke-width="0.9"/>
<circle cx="268.5" cy="396.6" r="2.7" fill="#4884AE" stroke="#101a22" stroke-width="0.9"/>
<circle cx="268.5" cy="400.4" r="2.7" fill="#4884AE" stroke="#101a22" stroke-width="0.9"/>
<circle cx="268.5" cy="402.9" r="2.7" fill="#4884AE" stroke="#101a22" stroke-width="0.9"/>
<circle cx="268.5" cy="407.3" r="2.7" fill="#4884AE" stroke="#101a22" stroke-width="0.9"/>
<circle cx="268.5" cy="412.6" r="2.7" fill="#4884AE" stroke="#101a22" stroke-width="0.9"/>
<circle cx="268.5" cy="415.8" r="2.7" fill="#4884AE" stroke="#101a22" stroke-width="0.9"/>
<circle cx="268.5" cy="420.7" r="2.7" fill="#4884AE" stroke="#101a22" stroke-width="0.9"/>
<circle cx="268.5" cy="423.7" r="2.7" fill="#4884AE" stroke="#101a22" stroke-width="0.9"/>
<circle cx="268.5" cy="427.1" r="2.7" fill="#4884AE" stroke="#101a22" stroke-width="0.9"/>
<circle cx="268.5" cy="432.2" r="2.7" fill="#4884AE" stroke="#101a22" stroke-width="0.9"/>
<circle cx="268.5" cy="436.4" r="2.7" fill="#4884AE" stroke="#101a22" stroke-width="0.9"/>
<circle cx="268.5" cy="439.5" r="2.7" fill="#4884AE" stroke="#101a22" stroke-width="0.9"/>
<circle cx="268.5" cy="443.2" r="2.7" fill="#4884AE" stroke="#101a22" stroke-width="0.9"/>
<circle cx="268.5" cy="447.7" r="2.7" fill="#4884AE" stroke="#101a22" stroke-width="0.9"/>
<circle cx="268.5" cy="452.8" r="2.7" fill="#4884AE" stroke="#101a22" stroke-width="0.9"/>
<circle cx="268.5" cy="455.5" r="2.7" fill="#4884AE" stroke="#101a22" stroke-width="0.9"/>
<circle cx="268.5" cy="457.0" r="2.7" fill="#4884AE" stroke="#101a22" stroke-width="0.9"/>
<circle cx="268.5" cy="459.9" r="2.7" fill="#4884AE" stroke="#101a22" stroke-width="0.9"/>
<circle cx="268.5" cy="462.4" r="2.7" fill="#4884AE" stroke="#101a22" stroke-width="0.9"/>
<circle cx="268.5" cy="465.0" r="2.7" fill="#4884AE" stroke="#101a22" stroke-width="0.9"/>
<circle cx="268.5" cy="469.0" r="2.7" fill="#4884AE" stroke="#101a22" stroke-width="0.9"/>
<circle cx="268.5" cy="470.6" r="2.7" fill="#4884AE" stroke="#101a22" stroke-width="0.9"/>
<circle cx="268.5" cy="474.0" r="2.7" fill="#4884AE" stroke="#101a22" stroke-width="0.9"/>
<circle cx="268.5" cy="476.5" r="2.7" fill="#4884AE" stroke="#101a22" stroke-width="0.9"/>
<circle cx="268.5" cy="478.7" r="2.7" fill="#4884AE" stroke="#101a22" stroke-width="0.9"/>
<circle cx="268.5" cy="482.4" r="2.7" fill="#4884AE" stroke="#101a22" stroke-width="0.9"/>
<circle cx="268.5" cy="484.0" r="2.7" fill="#4884AE" stroke="#101a22" stroke-width="0.9"/>
<circle cx="268.5" cy="487.7" r="2.7" fill="#4884AE" stroke="#101a22" stroke-width="0.9"/>
<circle cx="268.5" cy="489.4" r="2.7" fill="#4884AE" stroke="#101a22" stroke-width="0.9"/>
<circle cx="268.5" cy="492.7" r="2.7" fill="#4884AE" stroke="#101a22" stroke-width="0.9"/>
<circle cx="268.5" cy="495.0" r="2.7" fill="#4884AE" stroke="#101a22" stroke-width="0.9"/>
<circle cx="268.5" cy="497.8" r="2.7" fill="#4884AE" stroke="#101a22" stroke-width="0.9"/>
<circle cx="268.5" cy="501.7" r="2.7" fill="#4884AE" stroke="#101a22" stroke-width="0.9"/>
<circle cx="268.5" cy="504.1" r="2.7" fill="#4884AE" stroke="#101a22" stroke-width="0.9"/>
<circle cx="268.5" cy="505.9" r="2.7" fill="#4884AE" stroke="#101a22" stroke-width="0.9"/>
<circle cx="268.5" cy="509.7" r="2.7" fill="#4884AE" stroke="#101a22" stroke-width="0.9"/>
<circle cx="268.5" cy="516.0" r="2.7" fill="#4884AE" stroke="#101a22" stroke-width="0.9"/>
<circle cx="268.5" cy="523.3" r="2.7" fill="#4884AE" stroke="#101a22" stroke-width="0.9"/>
<text x="375.60" y="11.10" font-size="20.5" text-anchor="start" font-weight="bold" fill="#000" >c</text>
<line x1="389.20" y1="40.30" x2="389.20" y2="175.40" stroke="#5a5a5a" stroke-width="0.85" />
<line x1="389.20" y1="175.40" x2="487.50" y2="175.40" stroke="#5a5a5a" stroke-width="0.85" />
<line x1="387.20" y1="175.40" x2="389.20" y2="175.40" stroke="#5a5a5a" stroke-width="0.85" />
<text x="386.30" y="177.85" font-size="6.1" text-anchor="end" font-weight="bold" fill="#111" >0</text>
<line x1="387.20" y1="141.62" x2="389.20" y2="141.62" stroke="#5a5a5a" stroke-width="0.85" />
<text x="386.30" y="144.07" font-size="6.1" text-anchor="end" font-weight="bold" fill="#111" >2000</text>
<line x1="387.20" y1="107.85" x2="389.20" y2="107.85" stroke="#5a5a5a" stroke-width="0.85" />
<text x="386.30" y="110.30" font-size="6.1" text-anchor="end" font-weight="bold" fill="#111" >4000</text>
<line x1="387.20" y1="74.07" x2="389.20" y2="74.07" stroke="#5a5a5a" stroke-width="0.85" />
<text x="386.30" y="76.52" font-size="6.1" text-anchor="end" font-weight="bold" fill="#111" >6000</text>
<line x1="387.20" y1="40.30" x2="389.20" y2="40.30" stroke="#5a5a5a" stroke-width="0.85" />
<text x="386.30" y="42.75" font-size="6.1" text-anchor="end" font-weight="bold" fill="#111" >8000</text>
<line x1="413.80" y1="175.40" x2="413.80" y2="177.40" stroke="#5a5a5a" stroke-width="0.85" />
<line x1="463.00" y1="175.40" x2="463.00" y2="177.40" stroke="#5a5a5a" stroke-width="0.85" />
<text x="413.80" y="186.00" font-size="8.7" text-anchor="middle" font-weight="bold" fill="#111" textLength="9.4" lengthAdjust="spacingAndGlyphs">T0</text>
<text x="464.20" y="186.00" font-size="8.7" text-anchor="middle" font-weight="bold" fill="#111" textLength="9.4" lengthAdjust="spacingAndGlyphs">T1</text>
<text transform="translate(368.6,114) rotate(-90)" font-size="5.75" font-weight="bold" text-anchor="middle" fill="#111">MFI</text>
<text x="394.00" y="50.00" font-size="5.6" text-anchor="start" font-weight="bold" fill="#111" >MIC 0051</text>
<text x="394.00" y="57.00" font-size="5.6" text-anchor="start" font-weight="bold" fill="#111" >Female</text>
<text x="394.00" y="64.00" font-size="5.6" text-anchor="start" font-weight="bold" fill="#111" >28 y.o</text>
<line x1="488.60" y1="40.10" x2="496.60" y2="40.10" stroke="#F03C7E" stroke-width="1" />
<rect x="490.30" y="38.10" width="4.6" height="4.0" fill="#fff" stroke="#F03C7E" stroke-width="1.5"/>
<text x="498.60" y="42.70" font-size="6" text-anchor="start" font-weight="normal" fill="#111" stroke="#111" stroke-width="0.1">B6R</text>
<line x1="488.60" y1="47.50" x2="496.60" y2="47.50" stroke="#151515" stroke-width="1" />
<rect x="490.30" y="45.50" width="4.6" height="4.0" fill="#fff" stroke="#151515" stroke-width="1.5"/>
<text x="498.60" y="50.10" font-size="6" text-anchor="start" font-weight="normal" fill="#111" stroke="#111" stroke-width="0.1">A29L</text>
<line x1="488.60" y1="54.90" x2="496.60" y2="54.90" stroke="#1E8E8E" stroke-width="1" />
<rect x="490.30" y="52.90" width="4.6" height="4.0" fill="#fff" stroke="#1E8E8E" stroke-width="1.5"/>
<text x="498.60" y="57.50" font-size="6" text-anchor="start" font-weight="normal" fill="#111" stroke="#111" stroke-width="0.1">A35R</text>
<line x1="488.60" y1="62.30" x2="496.60" y2="62.30" stroke="#4B1A9B" stroke-width="1" />
<rect x="490.30" y="60.30" width="4.6" height="4.0" fill="#fff" stroke="#4B1A9B" stroke-width="1.5"/>
<text x="498.60" y="64.90" font-size="6" text-anchor="start" font-weight="normal" fill="#111" stroke="#111" stroke-width="0.1">D6L</text>
<line x1="488.60" y1="69.70" x2="496.60" y2="69.70" stroke="#B48AF5" stroke-width="1" />
<rect x="490.30" y="67.70" width="4.6" height="4.0" fill="#fff" stroke="#B48AF5" stroke-width="1.5"/>
<text x="498.60" y="72.30" font-size="6" text-anchor="start" font-weight="normal" fill="#111" stroke="#111" stroke-width="0.1">H3L</text>
<line x1="488.60" y1="77.10" x2="496.60" y2="77.10" stroke="#80D4F5" stroke-width="1" />
<rect x="490.30" y="75.10" width="4.6" height="4.0" fill="#fff" stroke="#80D4F5" stroke-width="1.5"/>
<text x="498.60" y="79.70" font-size="6" text-anchor="start" font-weight="normal" fill="#111" stroke="#111" stroke-width="0.1">M1R</text>
<line x1="413.80" y1="169.83" x2="463.00" y2="143.62" stroke="#80D4F5" stroke-width="1.5" stroke-dasharray="1.5 1.8"/>
<line x1="413.80" y1="160.51" x2="463.00" y2="158.02" stroke="#B48AF5" stroke-width="1.5" stroke-dasharray="1.5 1.8"/>
<line x1="413.80" y1="144.41" x2="463.00" y2="53.02" stroke="#4B1A9B" stroke-width="1.5" stroke-dasharray="1.5 1.8"/>
<line x1="413.80" y1="170.33" x2="463.00" y2="153.06" stroke="#1E8E8E" stroke-width="1.5" stroke-dasharray="1.5 1.8"/>
<line x1="413.80" y1="154.83" x2="463.00" y2="87.28" stroke="#151515" stroke-width="1.5" stroke-dasharray="1.5 1.8"/>
<line x1="413.80" y1="172.43" x2="463.00" y2="133.18" stroke="#F03C7E" stroke-width="1.5" stroke-dasharray="1.5 1.8"/>
<rect x="411.50" y="167.83" width="4.6" height="4.0" fill="#fff" stroke="#80D4F5" stroke-width="1.5"/>
<rect x="460.70" y="141.62" width="4.6" height="4.0" fill="#fff" stroke="#80D4F5" stroke-width="1.5"/>
<rect x="411.50" y="158.51" width="4.6" height="4.0" fill="#fff" stroke="#B48AF5" stroke-width="1.5"/>
<rect x="460.70" y="156.02" width="4.6" height="4.0" fill="#fff" stroke="#B48AF5" stroke-width="1.5"/>
<rect x="411.50" y="142.41" width="4.6" height="4.0" fill="#fff" stroke="#4B1A9B" stroke-width="1.5"/>
<rect x="460.70" y="51.02" width="4.6" height="4.0" fill="#fff" stroke="#4B1A9B" stroke-width="1.5"/>
<rect x="411.50" y="168.33" width="4.6" height="4.0" fill="#fff" stroke="#1E8E8E" stroke-width="1.5"/>
<rect x="460.70" y="151.06" width="4.6" height="4.0" fill="#fff" stroke="#1E8E8E" stroke-width="1.5"/>
<rect x="411.50" y="152.83" width="4.6" height="4.0" fill="#fff" stroke="#151515" stroke-width="1.5"/>
<rect x="460.70" y="85.28" width="4.6" height="4.0" fill="#fff" stroke="#151515" stroke-width="1.5"/>
<rect x="411.50" y="170.43" width="4.6" height="4.0" fill="#fff" stroke="#F03C7E" stroke-width="1.5"/>
<rect x="460.70" y="131.18" width="4.6" height="4.0" fill="#fff" stroke="#F03C7E" stroke-width="1.5"/>
<line x1="554.50" y1="42.00" x2="554.50" y2="175.30" stroke="#5a5a5a" stroke-width="0.85" />
<line x1="554.50" y1="175.30" x2="647.70" y2="175.30" stroke="#5a5a5a" stroke-width="0.85" />
<line x1="552.50" y1="175.30" x2="554.50" y2="175.30" stroke="#5a5a5a" stroke-width="0.85" />
<text x="551.60" y="177.75" font-size="6.1" text-anchor="end" font-weight="bold" fill="#111" >0</text>
<line x1="552.50" y1="148.64" x2="554.50" y2="148.64" stroke="#5a5a5a" stroke-width="0.85" />
<text x="551.60" y="151.09" font-size="6.1" text-anchor="end" font-weight="bold" fill="#111" >1</text>
<line x1="552.50" y1="121.98" x2="554.50" y2="121.98" stroke="#5a5a5a" stroke-width="0.85" />
<text x="551.60" y="124.43" font-size="6.1" text-anchor="end" font-weight="bold" fill="#111" >2</text>
<line x1="552.50" y1="95.32" x2="554.50" y2="95.32" stroke="#5a5a5a" stroke-width="0.85" />
<text x="551.60" y="97.77" font-size="6.1" text-anchor="end" font-weight="bold" fill="#111" >3</text>
<line x1="552.50" y1="68.66" x2="554.50" y2="68.66" stroke="#5a5a5a" stroke-width="0.85" />
<text x="551.60" y="71.11" font-size="6.1" text-anchor="end" font-weight="bold" fill="#111" >4</text>
<line x1="552.50" y1="42.00" x2="554.50" y2="42.00" stroke="#5a5a5a" stroke-width="0.85" />
<text x="551.60" y="44.45" font-size="6.1" text-anchor="end" font-weight="bold" fill="#111" >5</text>
<line x1="578.00" y1="175.30" x2="578.00" y2="177.30" stroke="#5a5a5a" stroke-width="0.85" />
<line x1="624.50" y1="175.30" x2="624.50" y2="177.30" stroke="#5a5a5a" stroke-width="0.85" />
<text x="578.00" y="187.00" font-size="8.7" text-anchor="middle" font-weight="bold" fill="#111" textLength="9.4" lengthAdjust="spacingAndGlyphs">T0</text>
<text x="625.70" y="187.00" font-size="8.7" text-anchor="middle" font-weight="bold" fill="#111" textLength="9.4" lengthAdjust="spacingAndGlyphs">T1</text>
<text transform="translate(537.5,114.3) rotate(-90)" font-size="5.9" text-anchor="middle" fill="#000" stroke="#000" stroke-width="0.08" textLength="41.1" lengthAdjust="spacingAndGlyphs">Normalized MFI</text>
<text x="559.00" y="51.50" font-size="5.6" text-anchor="start" font-weight="bold" fill="#111" >MIC 0051</text>
<text x="559.00" y="58.50" font-size="5.6" text-anchor="start" font-weight="bold" fill="#111" >Female</text>
<text x="559.00" y="65.50" font-size="5.6" text-anchor="start" font-weight="bold" fill="#111" >28 y.o</text>
<line x1="648.20" y1="41.20" x2="656.20" y2="41.20" stroke="#F03C7E" stroke-width="1" />
<rect x="649.90" y="39.20" width="4.6" height="4.0" fill="#fff" stroke="#F03C7E" stroke-width="1.5"/>
<text x="658.20" y="43.80" font-size="6" text-anchor="start" font-weight="normal" fill="#111" stroke="#111" stroke-width="0.1">B6R</text>
<line x1="648.20" y1="48.60" x2="656.20" y2="48.60" stroke="#151515" stroke-width="1" />
<rect x="649.90" y="46.60" width="4.6" height="4.0" fill="#fff" stroke="#151515" stroke-width="1.5"/>
<text x="658.20" y="51.20" font-size="6" text-anchor="start" font-weight="normal" fill="#111" stroke="#111" stroke-width="0.1">A29L</text>
<line x1="648.20" y1="56.00" x2="656.20" y2="56.00" stroke="#1E8E8E" stroke-width="1" />
<rect x="649.90" y="54.00" width="4.6" height="4.0" fill="#fff" stroke="#1E8E8E" stroke-width="1.5"/>
<text x="658.20" y="58.60" font-size="6" text-anchor="start" font-weight="normal" fill="#111" stroke="#111" stroke-width="0.1">A35R</text>
<line x1="648.20" y1="63.40" x2="656.20" y2="63.40" stroke="#4B1A9B" stroke-width="1" />
<rect x="649.90" y="61.40" width="4.6" height="4.0" fill="#fff" stroke="#4B1A9B" stroke-width="1.5"/>
<text x="658.20" y="66.00" font-size="6" text-anchor="start" font-weight="normal" fill="#111" stroke="#111" stroke-width="0.1">D6L</text>
<line x1="648.20" y1="70.80" x2="656.20" y2="70.80" stroke="#B48AF5" stroke-width="1" />
<rect x="649.90" y="68.80" width="4.6" height="4.0" fill="#fff" stroke="#B48AF5" stroke-width="1.5"/>
<text x="658.20" y="73.40" font-size="6" text-anchor="start" font-weight="normal" fill="#111" stroke="#111" stroke-width="0.1">H3L</text>
<line x1="648.20" y1="78.20" x2="656.20" y2="78.20" stroke="#80D4F5" stroke-width="1" />
<rect x="649.90" y="76.20" width="4.6" height="4.0" fill="#fff" stroke="#80D4F5" stroke-width="1.5"/>
<text x="658.20" y="80.80" font-size="6" text-anchor="start" font-weight="normal" fill="#111" stroke="#111" stroke-width="0.1">M1R</text>
<line x1="578.00" y1="165.97" x2="624.50" y2="129.98" stroke="#80D4F5" stroke-width="1.5" stroke-dasharray="1.5 1.8"/>
<line x1="578.00" y1="163.04" x2="624.50" y2="160.90" stroke="#B48AF5" stroke-width="1.5" stroke-dasharray="1.5 1.8"/>
<line x1="578.00" y1="147.57" x2="624.50" y2="63.06" stroke="#4B1A9B" stroke-width="1.5" stroke-dasharray="1.5 1.8"/>
<line x1="578.00" y1="167.30" x2="624.50" y2="131.84" stroke="#1E8E8E" stroke-width="1.5" stroke-dasharray="1.5 1.8"/>
<line x1="578.00" y1="166.24" x2="624.50" y2="135.58" stroke="#151515" stroke-width="1.5" stroke-dasharray="1.5 1.8"/>
<line x1="578.00" y1="172.63" x2="624.50" y2="99.59" stroke="#F03C7E" stroke-width="1.5" stroke-dasharray="1.5 1.8"/>
<rect x="575.70" y="163.97" width="4.6" height="4.0" fill="#fff" stroke="#80D4F5" stroke-width="1.5"/>
<rect x="622.20" y="127.98" width="4.6" height="4.0" fill="#fff" stroke="#80D4F5" stroke-width="1.5"/>
<rect x="575.70" y="161.04" width="4.6" height="4.0" fill="#fff" stroke="#B48AF5" stroke-width="1.5"/>
<rect x="622.20" y="158.90" width="4.6" height="4.0" fill="#fff" stroke="#B48AF5" stroke-width="1.5"/>
<rect x="575.70" y="145.57" width="4.6" height="4.0" fill="#fff" stroke="#4B1A9B" stroke-width="1.5"/>
<rect x="622.20" y="61.06" width="4.6" height="4.0" fill="#fff" stroke="#4B1A9B" stroke-width="1.5"/>
<rect x="575.70" y="165.30" width="4.6" height="4.0" fill="#fff" stroke="#1E8E8E" stroke-width="1.5"/>
<rect x="622.20" y="129.84" width="4.6" height="4.0" fill="#fff" stroke="#1E8E8E" stroke-width="1.5"/>
<rect x="575.70" y="164.24" width="4.6" height="4.0" fill="#fff" stroke="#151515" stroke-width="1.5"/>
<rect x="622.20" y="133.58" width="4.6" height="4.0" fill="#fff" stroke="#151515" stroke-width="1.5"/>
<rect x="575.70" y="170.63" width="4.6" height="4.0" fill="#fff" stroke="#F03C7E" stroke-width="1.5"/>
<rect x="622.20" y="97.59" width="4.6" height="4.0" fill="#fff" stroke="#F03C7E" stroke-width="1.5"/>
<line x1="389.20" y1="204.40" x2="389.20" y2="339.50" stroke="#5a5a5a" stroke-width="0.85" />
<line x1="389.20" y1="339.50" x2="487.00" y2="339.50" stroke="#5a5a5a" stroke-width="0.85" />
<line x1="387.20" y1="339.50" x2="389.20" y2="339.50" stroke="#5a5a5a" stroke-width="0.85" />
<text x="386.30" y="341.95" font-size="6.1" text-anchor="end" font-weight="bold" fill="#111" >0</text>
<line x1="387.20" y1="312.48" x2="389.20" y2="312.48" stroke="#5a5a5a" stroke-width="0.85" />
<text x="386.30" y="314.93" font-size="6.1" text-anchor="end" font-weight="bold" fill="#111" >1000</text>
<line x1="387.20" y1="285.46" x2="389.20" y2="285.46" stroke="#5a5a5a" stroke-width="0.85" />
<text x="386.30" y="287.91" font-size="6.1" text-anchor="end" font-weight="bold" fill="#111" >2000</text>
<line x1="387.20" y1="258.44" x2="389.20" y2="258.44" stroke="#5a5a5a" stroke-width="0.85" />
<text x="386.30" y="260.89" font-size="6.1" text-anchor="end" font-weight="bold" fill="#111" >3000</text>
<line x1="387.20" y1="231.42" x2="389.20" y2="231.42" stroke="#5a5a5a" stroke-width="0.85" />
<text x="386.30" y="233.87" font-size="6.1" text-anchor="end" font-weight="bold" fill="#111" >4000</text>
<line x1="387.20" y1="204.40" x2="389.20" y2="204.40" stroke="#5a5a5a" stroke-width="0.85" />
<text x="386.30" y="206.85" font-size="6.1" text-anchor="end" font-weight="bold" fill="#111" >5000</text>
<line x1="413.70" y1="339.50" x2="413.70" y2="341.50" stroke="#5a5a5a" stroke-width="0.85" />
<line x1="463.00" y1="339.50" x2="463.00" y2="341.50" stroke="#5a5a5a" stroke-width="0.85" />
<text x="413.70" y="350.00" font-size="8.7" text-anchor="middle" font-weight="bold" fill="#111" textLength="9.4" lengthAdjust="spacingAndGlyphs">T0</text>
<text x="464.20" y="350.00" font-size="8.7" text-anchor="middle" font-weight="bold" fill="#111" textLength="9.4" lengthAdjust="spacingAndGlyphs">T1</text>
<text transform="translate(368.5,277.6) rotate(-90)" font-size="5.75" font-weight="bold" text-anchor="middle" fill="#111">MFI</text>
<text x="393.00" y="214.00" font-size="5.6" text-anchor="start" font-weight="bold" fill="#111" >FMC 005</text>
<text x="393.00" y="221.00" font-size="5.6" text-anchor="start" font-weight="bold" fill="#111" >Male</text>
<text x="393.00" y="228.00" font-size="5.6" text-anchor="start" font-weight="bold" fill="#111" >40 y.o</text>
<line x1="488.60" y1="204.10" x2="496.60" y2="204.10" stroke="#F03C7E" stroke-width="1" />
<rect x="490.30" y="202.10" width="4.6" height="4.0" fill="#fff" stroke="#F03C7E" stroke-width="1.5"/>
<text x="498.60" y="206.70" font-size="6" text-anchor="start" font-weight="normal" fill="#111" stroke="#111" stroke-width="0.1">B6R</text>
<line x1="488.60" y1="211.50" x2="496.60" y2="211.50" stroke="#151515" stroke-width="1" />
<rect x="490.30" y="209.50" width="4.6" height="4.0" fill="#fff" stroke="#151515" stroke-width="1.5"/>
<text x="498.60" y="214.10" font-size="6" text-anchor="start" font-weight="normal" fill="#111" stroke="#111" stroke-width="0.1">A29L</text>
<line x1="488.60" y1="218.90" x2="496.60" y2="218.90" stroke="#1E8E8E" stroke-width="1" />
<rect x="490.30" y="216.90" width="4.6" height="4.0" fill="#fff" stroke="#1E8E8E" stroke-width="1.5"/>
<text x="498.60" y="221.50" font-size="6" text-anchor="start" font-weight="normal" fill="#111" stroke="#111" stroke-width="0.1">A35R</text>
<line x1="488.60" y1="226.30" x2="496.60" y2="226.30" stroke="#4B1A9B" stroke-width="1" />
<rect x="490.30" y="224.30" width="4.6" height="4.0" fill="#fff" stroke="#4B1A9B" stroke-width="1.5"/>
<text x="498.60" y="228.90" font-size="6" text-anchor="start" font-weight="normal" fill="#111" stroke="#111" stroke-width="0.1">D6L</text>
<line x1="488.60" y1="233.70" x2="496.60" y2="233.70" stroke="#B48AF5" stroke-width="1" />
<rect x="490.30" y="231.70" width="4.6" height="4.0" fill="#fff" stroke="#B48AF5" stroke-width="1.5"/>
<text x="498.60" y="236.30" font-size="6" text-anchor="start" font-weight="normal" fill="#111" stroke="#111" stroke-width="0.1">H3L</text>
<line x1="488.60" y1="241.10" x2="496.60" y2="241.10" stroke="#80D4F5" stroke-width="1" />
<rect x="490.30" y="239.10" width="4.6" height="4.0" fill="#fff" stroke="#80D4F5" stroke-width="1.5"/>
<text x="498.60" y="243.70" font-size="6" text-anchor="start" font-weight="normal" fill="#111" stroke="#111" stroke-width="0.1">M1R</text>
<line x1="413.70" y1="331.66" x2="463.00" y2="316.53" stroke="#80D4F5" stroke-width="1.5" stroke-dasharray="1.5 1.8"/>
<line x1="413.70" y1="320.59" x2="463.00" y2="307.08" stroke="#B48AF5" stroke-width="1.5" stroke-dasharray="1.5 1.8"/>
<line x1="413.70" y1="317.48" x2="463.00" y2="239.53" stroke="#4B1A9B" stroke-width="1.5" stroke-dasharray="1.5 1.8"/>
<line x1="413.70" y1="336.26" x2="463.00" y2="333.56" stroke="#1E8E8E" stroke-width="1.5" stroke-dasharray="1.5 1.8"/>
<line x1="413.70" y1="285.46" x2="463.00" y2="217.91" stroke="#151515" stroke-width="1.5" stroke-dasharray="1.5 1.8"/>
<line x1="413.70" y1="335.45" x2="463.00" y2="331.93" stroke="#F03C7E" stroke-width="1.5" stroke-dasharray="1.5 1.8"/>
<rect x="411.40" y="329.66" width="4.6" height="4.0" fill="#fff" stroke="#80D4F5" stroke-width="1.5"/>
<rect x="460.70" y="314.53" width="4.6" height="4.0" fill="#fff" stroke="#80D4F5" stroke-width="1.5"/>
<rect x="411.40" y="318.59" width="4.6" height="4.0" fill="#fff" stroke="#B48AF5" stroke-width="1.5"/>
<rect x="460.70" y="305.08" width="4.6" height="4.0" fill="#fff" stroke="#B48AF5" stroke-width="1.5"/>
<rect x="411.40" y="315.48" width="4.6" height="4.0" fill="#fff" stroke="#4B1A9B" stroke-width="1.5"/>
<rect x="460.70" y="237.53" width="4.6" height="4.0" fill="#fff" stroke="#4B1A9B" stroke-width="1.5"/>
<rect x="411.40" y="334.26" width="4.6" height="4.0" fill="#fff" stroke="#1E8E8E" stroke-width="1.5"/>
<rect x="460.70" y="331.56" width="4.6" height="4.0" fill="#fff" stroke="#1E8E8E" stroke-width="1.5"/>
<rect x="411.40" y="283.46" width="4.6" height="4.0" fill="#fff" stroke="#151515" stroke-width="1.5"/>
<rect x="460.70" y="215.91" width="4.6" height="4.0" fill="#fff" stroke="#151515" stroke-width="1.5"/>
<rect x="411.40" y="333.45" width="4.6" height="4.0" fill="#fff" stroke="#F03C7E" stroke-width="1.5"/>
<rect x="460.70" y="329.93" width="4.6" height="4.0" fill="#fff" stroke="#F03C7E" stroke-width="1.5"/>
<line x1="552.60" y1="200.70" x2="552.60" y2="339.00" stroke="#5a5a5a" stroke-width="0.85" />
<line x1="552.60" y1="339.00" x2="649.00" y2="339.00" stroke="#5a5a5a" stroke-width="0.85" />
<line x1="550.60" y1="339.00" x2="552.60" y2="339.00" stroke="#5a5a5a" stroke-width="0.85" />
<text x="549.70" y="341.45" font-size="6.1" text-anchor="end" font-weight="bold" fill="#111" >0</text>
<line x1="550.60" y1="292.90" x2="552.60" y2="292.90" stroke="#5a5a5a" stroke-width="0.85" />
<text x="549.70" y="295.35" font-size="6.1" text-anchor="end" font-weight="bold" fill="#111" >1</text>
<line x1="550.60" y1="246.80" x2="552.60" y2="246.80" stroke="#5a5a5a" stroke-width="0.85" />
<text x="549.70" y="249.25" font-size="6.1" text-anchor="end" font-weight="bold" fill="#111" >2</text>
<line x1="550.60" y1="200.70" x2="552.60" y2="200.70" stroke="#5a5a5a" stroke-width="0.85" />
<text x="549.70" y="203.15" font-size="6.1" text-anchor="end" font-weight="bold" fill="#111" >3</text>
<line x1="576.50" y1="339.00" x2="576.50" y2="341.00" stroke="#5a5a5a" stroke-width="0.85" />
<line x1="624.50" y1="339.00" x2="624.50" y2="341.00" stroke="#5a5a5a" stroke-width="0.85" />
<text x="576.50" y="353.00" font-size="8.7" text-anchor="middle" font-weight="bold" fill="#111" textLength="9.4" lengthAdjust="spacingAndGlyphs">T0</text>
<text x="625.70" y="353.00" font-size="8.7" text-anchor="middle" font-weight="bold" fill="#111" textLength="9.4" lengthAdjust="spacingAndGlyphs">T1</text>
<text transform="translate(534.5,275.8) rotate(-90)" font-size="5.9" text-anchor="middle" fill="#000" stroke="#000" stroke-width="0.08" textLength="42.8" lengthAdjust="spacingAndGlyphs">Normalized MFI</text>
<text x="556.00" y="210.70" font-size="5.6" text-anchor="start" font-weight="bold" fill="#111" >FMC 005</text>
<text x="556.00" y="217.70" font-size="5.6" text-anchor="start" font-weight="bold" fill="#111" >Male</text>
<text x="556.00" y="224.70" font-size="5.6" text-anchor="start" font-weight="bold" fill="#111" >40 y.o</text>
<line x1="642.50" y1="200.00" x2="650.50" y2="200.00" stroke="#F03C7E" stroke-width="1" />
<rect x="644.20" y="198.00" width="4.6" height="4.0" fill="#fff" stroke="#F03C7E" stroke-width="1.5"/>
<text x="652.50" y="202.60" font-size="6" text-anchor="start" font-weight="normal" fill="#111" stroke="#111" stroke-width="0.1">B6R</text>
<line x1="642.50" y1="207.70" x2="650.50" y2="207.70" stroke="#151515" stroke-width="1" />
<rect x="644.20" y="205.70" width="4.6" height="4.0" fill="#fff" stroke="#151515" stroke-width="1.5"/>
<text x="652.50" y="210.30" font-size="6" text-anchor="start" font-weight="normal" fill="#111" stroke="#111" stroke-width="0.1">A29L</text>
<line x1="642.50" y1="215.40" x2="650.50" y2="215.40" stroke="#1E8E8E" stroke-width="1" />
<rect x="644.20" y="213.40" width="4.6" height="4.0" fill="#fff" stroke="#1E8E8E" stroke-width="1.5"/>
<text x="652.50" y="218.00" font-size="6" text-anchor="start" font-weight="normal" fill="#111" stroke="#111" stroke-width="0.1">A35R</text>
<line x1="642.50" y1="223.10" x2="650.50" y2="223.10" stroke="#4B1A9B" stroke-width="1" />
<rect x="644.20" y="221.10" width="4.6" height="4.0" fill="#fff" stroke="#4B1A9B" stroke-width="1.5"/>
<text x="652.50" y="225.70" font-size="6" text-anchor="start" font-weight="normal" fill="#111" stroke="#111" stroke-width="0.1">D6L</text>
<line x1="642.50" y1="230.80" x2="650.50" y2="230.80" stroke="#B48AF5" stroke-width="1" />
<rect x="644.20" y="228.80" width="4.6" height="4.0" fill="#fff" stroke="#B48AF5" stroke-width="1.5"/>
<text x="652.50" y="233.40" font-size="6" text-anchor="start" font-weight="normal" fill="#111" stroke="#111" stroke-width="0.1">H3L</text>
<line x1="642.50" y1="238.50" x2="650.50" y2="238.50" stroke="#80D4F5" stroke-width="1" />
<rect x="644.20" y="236.50" width="4.6" height="4.0" fill="#fff" stroke="#80D4F5" stroke-width="1.5"/>
<text x="652.50" y="241.10" font-size="6" text-anchor="start" font-weight="normal" fill="#111" stroke="#111" stroke-width="0.1">M1R</text>
<line x1="576.50" y1="327.48" x2="624.50" y2="303.50" stroke="#80D4F5" stroke-width="1.5" stroke-dasharray="1.5 1.8"/>
<line x1="576.50" y1="321.48" x2="624.50" y2="309.50" stroke="#B48AF5" stroke-width="1.5" stroke-dasharray="1.5 1.8"/>
<line x1="576.50" y1="317.33" x2="624.50" y2="240.35" stroke="#4B1A9B" stroke-width="1.5" stroke-dasharray="1.5 1.8"/>
<line x1="576.50" y1="333.01" x2="624.50" y2="325.17" stroke="#1E8E8E" stroke-width="1.5" stroke-dasharray="1.5 1.8"/>
<line x1="576.50" y1="312.72" x2="624.50" y2="279.53" stroke="#151515" stroke-width="1.5" stroke-dasharray="1.5 1.8"/>
<line x1="576.50" y1="331.16" x2="624.50" y2="324.71" stroke="#F03C7E" stroke-width="1.5" stroke-dasharray="1.5 1.8"/>
<rect x="574.20" y="325.48" width="4.6" height="4.0" fill="#fff" stroke="#80D4F5" stroke-width="1.5"/>
<rect x="622.20" y="301.50" width="4.6" height="4.0" fill="#fff" stroke="#80D4F5" stroke-width="1.5"/>
<rect x="574.20" y="319.48" width="4.6" height="4.0" fill="#fff" stroke="#B48AF5" stroke-width="1.5"/>
<rect x="622.20" y="307.50" width="4.6" height="4.0" fill="#fff" stroke="#B48AF5" stroke-width="1.5"/>
<rect x="574.20" y="315.33" width="4.6" height="4.0" fill="#fff" stroke="#4B1A9B" stroke-width="1.5"/>
<rect x="622.20" y="238.35" width="4.6" height="4.0" fill="#fff" stroke="#4B1A9B" stroke-width="1.5"/>
<rect x="574.20" y="331.01" width="4.6" height="4.0" fill="#fff" stroke="#1E8E8E" stroke-width="1.5"/>
<rect x="622.20" y="323.17" width="4.6" height="4.0" fill="#fff" stroke="#1E8E8E" stroke-width="1.5"/>
<rect x="574.20" y="310.72" width="4.6" height="4.0" fill="#fff" stroke="#151515" stroke-width="1.5"/>
<rect x="622.20" y="277.53" width="4.6" height="4.0" fill="#fff" stroke="#151515" stroke-width="1.5"/>
<rect x="574.20" y="329.16" width="4.6" height="4.0" fill="#fff" stroke="#F03C7E" stroke-width="1.5"/>
<rect x="622.20" y="322.71" width="4.6" height="4.0" fill="#fff" stroke="#F03C7E" stroke-width="1.5"/>
<line x1="390.40" y1="360.80" x2="390.40" y2="502.00" stroke="#5a5a5a" stroke-width="0.85" />
<line x1="390.40" y1="502.00" x2="493.20" y2="502.00" stroke="#5a5a5a" stroke-width="0.85" />
<line x1="388.40" y1="502.00" x2="390.40" y2="502.00" stroke="#5a5a5a" stroke-width="0.85" />
<text x="387.50" y="504.45" font-size="6.1" text-anchor="end" font-weight="bold" fill="#111" >0</text>
<line x1="388.40" y1="473.76" x2="390.40" y2="473.76" stroke="#5a5a5a" stroke-width="0.85" />
<text x="387.50" y="476.21" font-size="6.1" text-anchor="end" font-weight="bold" fill="#111" >1000</text>
<line x1="388.40" y1="445.52" x2="390.40" y2="445.52" stroke="#5a5a5a" stroke-width="0.85" />
<text x="387.50" y="447.97" font-size="6.1" text-anchor="end" font-weight="bold" fill="#111" >2000</text>
<line x1="388.40" y1="417.28" x2="390.40" y2="417.28" stroke="#5a5a5a" stroke-width="0.85" />
<text x="387.50" y="419.73" font-size="6.1" text-anchor="end" font-weight="bold" fill="#111" >3000</text>
<line x1="388.40" y1="389.04" x2="390.40" y2="389.04" stroke="#5a5a5a" stroke-width="0.85" />
<text x="387.50" y="391.49" font-size="6.1" text-anchor="end" font-weight="bold" fill="#111" >4000</text>
<line x1="388.40" y1="360.80" x2="390.40" y2="360.80" stroke="#5a5a5a" stroke-width="0.85" />
<text x="387.50" y="363.25" font-size="6.1" text-anchor="end" font-weight="bold" fill="#111" >5000</text>
<line x1="416.20" y1="502.00" x2="416.20" y2="504.00" stroke="#5a5a5a" stroke-width="0.85" />
<line x1="468.00" y1="502.00" x2="468.00" y2="504.00" stroke="#5a5a5a" stroke-width="0.85" />
<text x="416.20" y="512.50" font-size="8.7" text-anchor="middle" font-weight="bold" fill="#111" textLength="9.4" lengthAdjust="spacingAndGlyphs">T0</text>
<text x="469.20" y="512.50" font-size="8.7" text-anchor="middle" font-weight="bold" fill="#111" textLength="9.4" lengthAdjust="spacingAndGlyphs">T1</text>
<text transform="translate(368.8,437.4) rotate(-90)" font-size="5.75" font-weight="bold" text-anchor="middle" fill="#111">MFI</text>
<text x="395.00" y="370.60" font-size="6.0" text-anchor="start" font-weight="bold" fill="#111" >ADH 018</text>
<text x="395.00" y="377.90" font-size="6.0" text-anchor="start" font-weight="bold" fill="#111" >Male</text>
<text x="395.00" y="385.20" font-size="6.0" text-anchor="start" font-weight="bold" fill="#111" >43 y.o</text>
<line x1="494.70" y1="360.00" x2="502.70" y2="360.00" stroke="#F03C7E" stroke-width="1" />
<rect x="496.40" y="358.00" width="4.6" height="4.0" fill="#fff" stroke="#F03C7E" stroke-width="1.5"/>
<text x="505.60" y="362.60" font-size="6.35" text-anchor="start" font-weight="normal" fill="#111" stroke="#111" stroke-width="0.1">B6R</text>
<line x1="494.70" y1="367.80" x2="502.70" y2="367.80" stroke="#151515" stroke-width="1" />
<rect x="496.40" y="365.80" width="4.6" height="4.0" fill="#fff" stroke="#151515" stroke-width="1.5"/>
<text x="505.60" y="370.40" font-size="6.35" text-anchor="start" font-weight="normal" fill="#111" stroke="#111" stroke-width="0.1">A29L</text>
<line x1="494.70" y1="375.60" x2="502.70" y2="375.60" stroke="#1E8E8E" stroke-width="1" />
<rect x="496.40" y="373.60" width="4.6" height="4.0" fill="#fff" stroke="#1E8E8E" stroke-width="1.5"/>
<text x="505.60" y="378.20" font-size="6.35" text-anchor="start" font-weight="normal" fill="#111" stroke="#111" stroke-width="0.1">A35R</text>
<line x1="494.70" y1="383.40" x2="502.70" y2="383.40" stroke="#4B1A9B" stroke-width="1" />
<rect x="496.40" y="381.40" width="4.6" height="4.0" fill="#fff" stroke="#4B1A9B" stroke-width="1.5"/>
<text x="505.60" y="386.00" font-size="6.35" text-anchor="start" font-weight="normal" fill="#111" stroke="#111" stroke-width="0.1">D6L</text>
<line x1="494.70" y1="391.20" x2="502.70" y2="391.20" stroke="#B48AF5" stroke-width="1" />
<rect x="496.40" y="389.20" width="4.6" height="4.0" fill="#fff" stroke="#B48AF5" stroke-width="1.5"/>
<text x="505.60" y="393.80" font-size="6.35" text-anchor="start" font-weight="normal" fill="#111" stroke="#111" stroke-width="0.1">H3L</text>
<line x1="494.70" y1="399.00" x2="502.70" y2="399.00" stroke="#80D4F5" stroke-width="1" />
<rect x="496.40" y="397.00" width="4.6" height="4.0" fill="#fff" stroke="#80D4F5" stroke-width="1.5"/>
<text x="505.60" y="401.60" font-size="6.35" text-anchor="start" font-weight="normal" fill="#111" stroke="#111" stroke-width="0.1">M1R</text>
<line x1="416.20" y1="493.67" x2="468.00" y2="477.43" stroke="#80D4F5" stroke-width="1.5" stroke-dasharray="1.5 1.8"/>
<line x1="416.20" y1="481.95" x2="468.00" y2="468.11" stroke="#B48AF5" stroke-width="1.5" stroke-dasharray="1.5 1.8"/>
<line x1="416.20" y1="478.98" x2="468.00" y2="397.51" stroke="#4B1A9B" stroke-width="1.5" stroke-dasharray="1.5 1.8"/>
<line x1="416.20" y1="499.18" x2="468.00" y2="494.94" stroke="#1E8E8E" stroke-width="1.5" stroke-dasharray="1.5 1.8"/>
<line x1="416.20" y1="445.52" x2="468.00" y2="374.92" stroke="#151515" stroke-width="1.5" stroke-dasharray="1.5 1.8"/>
<line x1="416.20" y1="497.48" x2="468.00" y2="494.66" stroke="#F03C7E" stroke-width="1.5" stroke-dasharray="1.5 1.8"/>
<rect x="413.90" y="491.67" width="4.6" height="4.0" fill="#fff" stroke="#80D4F5" stroke-width="1.5"/>
<rect x="465.70" y="475.43" width="4.6" height="4.0" fill="#fff" stroke="#80D4F5" stroke-width="1.5"/>
<rect x="413.90" y="479.95" width="4.6" height="4.0" fill="#fff" stroke="#B48AF5" stroke-width="1.5"/>
<rect x="465.70" y="466.11" width="4.6" height="4.0" fill="#fff" stroke="#B48AF5" stroke-width="1.5"/>
<rect x="413.90" y="476.98" width="4.6" height="4.0" fill="#fff" stroke="#4B1A9B" stroke-width="1.5"/>
<rect x="465.70" y="395.51" width="4.6" height="4.0" fill="#fff" stroke="#4B1A9B" stroke-width="1.5"/>
<rect x="413.90" y="497.18" width="4.6" height="4.0" fill="#fff" stroke="#1E8E8E" stroke-width="1.5"/>
<rect x="465.70" y="492.94" width="4.6" height="4.0" fill="#fff" stroke="#1E8E8E" stroke-width="1.5"/>
<rect x="413.90" y="443.52" width="4.6" height="4.0" fill="#fff" stroke="#151515" stroke-width="1.5"/>
<rect x="465.70" y="372.92" width="4.6" height="4.0" fill="#fff" stroke="#151515" stroke-width="1.5"/>
<rect x="413.90" y="495.48" width="4.6" height="4.0" fill="#fff" stroke="#F03C7E" stroke-width="1.5"/>
<rect x="465.70" y="492.66" width="4.6" height="4.0" fill="#fff" stroke="#F03C7E" stroke-width="1.5"/>
<line x1="554.40" y1="360.80" x2="554.40" y2="502.00" stroke="#5a5a5a" stroke-width="0.85" />
<line x1="554.40" y1="502.00" x2="656.50" y2="502.00" stroke="#5a5a5a" stroke-width="0.85" />
<line x1="552.40" y1="502.00" x2="554.40" y2="502.00" stroke="#5a5a5a" stroke-width="0.85" />
<text x="551.50" y="504.45" font-size="6.1" text-anchor="end" font-weight="bold" fill="#111" >0</text>
<line x1="552.40" y1="466.70" x2="554.40" y2="466.70" stroke="#5a5a5a" stroke-width="0.85" />
<text x="551.50" y="469.15" font-size="6.1" text-anchor="end" font-weight="bold" fill="#111" >5</text>
<line x1="552.40" y1="431.40" x2="554.40" y2="431.40" stroke="#5a5a5a" stroke-width="0.85" />
<text x="551.50" y="433.85" font-size="6.1" text-anchor="end" font-weight="bold" fill="#111" >10</text>
<line x1="552.40" y1="396.10" x2="554.40" y2="396.10" stroke="#5a5a5a" stroke-width="0.85" />
<text x="551.50" y="398.55" font-size="6.1" text-anchor="end" font-weight="bold" fill="#111" >15</text>
<line x1="552.40" y1="360.80" x2="554.40" y2="360.80" stroke="#5a5a5a" stroke-width="0.85" />
<text x="551.50" y="363.25" font-size="6.1" text-anchor="end" font-weight="bold" fill="#111" >20</text>
<line x1="579.70" y1="502.00" x2="579.70" y2="504.00" stroke="#5a5a5a" stroke-width="0.85" />
<line x1="631.50" y1="502.00" x2="631.50" y2="504.00" stroke="#5a5a5a" stroke-width="0.85" />
<text x="579.70" y="512.50" font-size="8.7" text-anchor="middle" font-weight="bold" fill="#111" textLength="9.4" lengthAdjust="spacingAndGlyphs">T0</text>
<text x="632.70" y="512.50" font-size="8.7" text-anchor="middle" font-weight="bold" fill="#111" textLength="9.4" lengthAdjust="spacingAndGlyphs">T1</text>
<text transform="translate(531.8,437) rotate(-90)" font-size="5.9" text-anchor="middle" fill="#000" stroke="#000" stroke-width="0.08" textLength="43.8" lengthAdjust="spacingAndGlyphs">Normalized MFI</text>
<text x="558.20" y="368.10" font-size="6.0" text-anchor="start" font-weight="bold" fill="#111" >ADH 018</text>
<text x="558.20" y="375.40" font-size="6.0" text-anchor="start" font-weight="bold" fill="#111" >Male</text>
<text x="558.20" y="382.70" font-size="6.0" text-anchor="start" font-weight="bold" fill="#111" >43 y.o</text>
<line x1="658.20" y1="360.00" x2="666.20" y2="360.00" stroke="#F03C7E" stroke-width="1" />
<rect x="659.90" y="358.00" width="4.6" height="4.0" fill="#fff" stroke="#F03C7E" stroke-width="1.5"/>
<text x="669.10" y="362.60" font-size="6.35" text-anchor="start" font-weight="normal" fill="#111" stroke="#111" stroke-width="0.1">B6R</text>
<line x1="658.20" y1="367.80" x2="666.20" y2="367.80" stroke="#151515" stroke-width="1" />
<rect x="659.90" y="365.80" width="4.6" height="4.0" fill="#fff" stroke="#151515" stroke-width="1.5"/>
<text x="669.10" y="370.40" font-size="6.35" text-anchor="start" font-weight="normal" fill="#111" stroke="#111" stroke-width="0.1">A29L</text>
<line x1="658.20" y1="375.60" x2="666.20" y2="375.60" stroke="#1E8E8E" stroke-width="1" />
<rect x="659.90" y="373.60" width="4.6" height="4.0" fill="#fff" stroke="#1E8E8E" stroke-width="1.5"/>
<text x="669.10" y="378.20" font-size="6.35" text-anchor="start" font-weight="normal" fill="#111" stroke="#111" stroke-width="0.1">A35R</text>
<line x1="658.20" y1="383.40" x2="666.20" y2="383.40" stroke="#4B1A9B" stroke-width="1" />
<rect x="659.90" y="381.40" width="4.6" height="4.0" fill="#fff" stroke="#4B1A9B" stroke-width="1.5"/>
<text x="669.10" y="386.00" font-size="6.35" text-anchor="start" font-weight="normal" fill="#111" stroke="#111" stroke-width="0.1">D6L</text>
<line x1="658.20" y1="391.20" x2="666.20" y2="391.20" stroke="#B48AF5" stroke-width="1" />
<rect x="659.90" y="389.20" width="4.6" height="4.0" fill="#fff" stroke="#B48AF5" stroke-width="1.5"/>
<text x="669.10" y="393.80" font-size="6.35" text-anchor="start" font-weight="normal" fill="#111" stroke="#111" stroke-width="0.1">H3L</text>
<line x1="658.20" y1="399.00" x2="666.20" y2="399.00" stroke="#80D4F5" stroke-width="1" />
<rect x="659.90" y="397.00" width="4.6" height="4.0" fill="#fff" stroke="#80D4F5" stroke-width="1.5"/>
<text x="669.10" y="401.60" font-size="6.35" text-anchor="start" font-weight="normal" fill="#111" stroke="#111" stroke-width="0.1">M1R</text>
<line x1="579.70" y1="499.88" x2="631.50" y2="472.70" stroke="#80D4F5" stroke-width="1.5" stroke-dasharray="1.5 1.8"/>
<line x1="579.70" y1="491.41" x2="631.50" y2="472.35" stroke="#B48AF5" stroke-width="1.5" stroke-dasharray="1.5 1.8"/>
<line x1="579.70" y1="492.82" x2="631.50" y2="396.10" stroke="#4B1A9B" stroke-width="1.5" stroke-dasharray="1.5 1.8"/>
<line x1="579.70" y1="499.88" x2="631.50" y2="497.41" stroke="#1E8E8E" stroke-width="1.5" stroke-dasharray="1.5 1.8"/>
<line x1="579.70" y1="497.06" x2="631.50" y2="442.70" stroke="#151515" stroke-width="1.5" stroke-dasharray="1.5 1.8"/>
<line x1="579.70" y1="500.59" x2="631.50" y2="499.18" stroke="#F03C7E" stroke-width="1.5" stroke-dasharray="1.5 1.8"/>
<rect x="577.40" y="497.88" width="4.6" height="4.0" fill="#fff" stroke="#80D4F5" stroke-width="1.5"/>
<rect x="629.20" y="470.70" width="4.6" height="4.0" fill="#fff" stroke="#80D4F5" stroke-width="1.5"/>
<rect x="577.40" y="489.41" width="4.6" height="4.0" fill="#fff" stroke="#B48AF5" stroke-width="1.5"/>
<rect x="629.20" y="470.35" width="4.6" height="4.0" fill="#fff" stroke="#B48AF5" stroke-width="1.5"/>
<rect x="577.40" y="490.82" width="4.6" height="4.0" fill="#fff" stroke="#4B1A9B" stroke-width="1.5"/>
<rect x="629.20" y="394.10" width="4.6" height="4.0" fill="#fff" stroke="#4B1A9B" stroke-width="1.5"/>
<rect x="577.40" y="497.88" width="4.6" height="4.0" fill="#fff" stroke="#1E8E8E" stroke-width="1.5"/>
<rect x="629.20" y="495.41" width="4.6" height="4.0" fill="#fff" stroke="#1E8E8E" stroke-width="1.5"/>
<rect x="577.40" y="495.06" width="4.6" height="4.0" fill="#fff" stroke="#151515" stroke-width="1.5"/>
<rect x="629.20" y="440.70" width="4.6" height="4.0" fill="#fff" stroke="#151515" stroke-width="1.5"/>
<rect x="577.40" y="498.59" width="4.6" height="4.0" fill="#fff" stroke="#F03C7E" stroke-width="1.5"/>
<rect x="629.20" y="497.18" width="4.6" height="4.0" fill="#fff" stroke="#F03C7E" stroke-width="1.5"/>
<line x1="392.10" y1="523.30" x2="392.10" y2="655.50" stroke="#5a5a5a" stroke-width="0.85" />
<line x1="392.10" y1="655.50" x2="487.50" y2="655.50" stroke="#5a5a5a" stroke-width="0.85" />
<line x1="390.10" y1="655.50" x2="392.10" y2="655.50" stroke="#5a5a5a" stroke-width="0.85" />
<text x="389.20" y="657.95" font-size="6.1" text-anchor="end" font-weight="bold" fill="#111" >0</text>
<line x1="390.10" y1="611.43" x2="392.10" y2="611.43" stroke="#5a5a5a" stroke-width="0.85" />
<text x="389.20" y="613.88" font-size="6.1" text-anchor="end" font-weight="bold" fill="#111" >10000</text>
<line x1="390.10" y1="567.37" x2="392.10" y2="567.37" stroke="#5a5a5a" stroke-width="0.85" />
<text x="389.20" y="569.82" font-size="6.1" text-anchor="end" font-weight="bold" fill="#111" >20000</text>
<line x1="390.10" y1="523.30" x2="392.10" y2="523.30" stroke="#5a5a5a" stroke-width="0.85" />
<text x="389.20" y="525.75" font-size="6.1" text-anchor="end" font-weight="bold" fill="#111" >30000</text>
<line x1="415.70" y1="655.50" x2="415.70" y2="657.50" stroke="#5a5a5a" stroke-width="0.85" />
<line x1="464.20" y1="655.50" x2="464.20" y2="657.50" stroke="#5a5a5a" stroke-width="0.85" />
<text x="415.70" y="665.50" font-size="8.7" text-anchor="middle" font-weight="bold" fill="#111" textLength="9.4" lengthAdjust="spacingAndGlyphs">T0</text>
<text x="465.40" y="665.50" font-size="8.7" text-anchor="middle" font-weight="bold" fill="#111" textLength="9.4" lengthAdjust="spacingAndGlyphs">T1</text>
<text transform="translate(368.3,595) rotate(-90)" font-size="5.75" font-weight="bold" text-anchor="middle" fill="#111">MFI</text>
<text x="395.70" y="532.70" font-size="5.6" text-anchor="start" font-weight="bold" fill="#111" >LPHC 111</text>
<text x="395.70" y="539.70" font-size="5.6" text-anchor="start" font-weight="bold" fill="#111" >Male</text>
<text x="395.70" y="546.70" font-size="5.6" text-anchor="start" font-weight="bold" fill="#111" >47 y.o</text>
<line x1="489.00" y1="523.00" x2="497.00" y2="523.00" stroke="#F03C7E" stroke-width="1" />
<rect x="490.70" y="521.00" width="4.6" height="4.0" fill="#fff" stroke="#F03C7E" stroke-width="1.5"/>
<text x="499.00" y="525.60" font-size="6" text-anchor="start" font-weight="normal" fill="#111" stroke="#111" stroke-width="0.1">B6R</text>
<line x1="489.00" y1="530.30" x2="497.00" y2="530.30" stroke="#151515" stroke-width="1" />
<rect x="490.70" y="528.30" width="4.6" height="4.0" fill="#fff" stroke="#151515" stroke-width="1.5"/>
<text x="499.00" y="532.90" font-size="6" text-anchor="start" font-weight="normal" fill="#111" stroke="#111" stroke-width="0.1">A29L</text>
<line x1="489.00" y1="537.60" x2="497.00" y2="537.60" stroke="#1E8E8E" stroke-width="1" />
<rect x="490.70" y="535.60" width="4.6" height="4.0" fill="#fff" stroke="#1E8E8E" stroke-width="1.5"/>
<text x="499.00" y="540.20" font-size="6" text-anchor="start" font-weight="normal" fill="#111" stroke="#111" stroke-width="0.1">A35R</text>
<line x1="489.00" y1="544.90" x2="497.00" y2="544.90" stroke="#4B1A9B" stroke-width="1" />
<rect x="490.70" y="542.90" width="4.6" height="4.0" fill="#fff" stroke="#4B1A9B" stroke-width="1.5"/>
<text x="499.00" y="547.50" font-size="6" text-anchor="start" font-weight="normal" fill="#111" stroke="#111" stroke-width="0.1">D6L</text>
<line x1="489.00" y1="552.20" x2="497.00" y2="552.20" stroke="#B48AF5" stroke-width="1" />
<rect x="490.70" y="550.20" width="4.6" height="4.0" fill="#fff" stroke="#B48AF5" stroke-width="1.5"/>
<text x="499.00" y="554.80" font-size="6" text-anchor="start" font-weight="normal" fill="#111" stroke="#111" stroke-width="0.1">H3L</text>
<line x1="489.00" y1="559.50" x2="497.00" y2="559.50" stroke="#80D4F5" stroke-width="1" />
<rect x="490.70" y="557.50" width="4.6" height="4.0" fill="#fff" stroke="#80D4F5" stroke-width="1.5"/>
<text x="499.00" y="562.10" font-size="6" text-anchor="start" font-weight="normal" fill="#111" stroke="#111" stroke-width="0.1">M1R</text>
<line x1="415.70" y1="654.18" x2="464.20" y2="648.89" stroke="#80D4F5" stroke-width="1.5" stroke-dasharray="1.5 1.8"/>
<line x1="415.70" y1="653.30" x2="464.20" y2="644.92" stroke="#B48AF5" stroke-width="1.5" stroke-dasharray="1.5 1.8"/>
<line x1="415.70" y1="651.09" x2="464.20" y2="649.33" stroke="#4B1A9B" stroke-width="1.5" stroke-dasharray="1.5 1.8"/>
<line x1="415.70" y1="654.62" x2="464.20" y2="538.72" stroke="#1E8E8E" stroke-width="1.5" stroke-dasharray="1.5 1.8"/>
<line x1="415.70" y1="649.33" x2="464.20" y2="649.33" stroke="#151515" stroke-width="1.5" stroke-dasharray="1.5 1.8"/>
<line x1="415.70" y1="655.06" x2="464.20" y2="533.44" stroke="#F03C7E" stroke-width="1.5" stroke-dasharray="1.5 1.8"/>
<rect x="413.40" y="652.18" width="4.6" height="4.0" fill="#fff" stroke="#80D4F5" stroke-width="1.5"/>
<rect x="461.90" y="646.89" width="4.6" height="4.0" fill="#fff" stroke="#80D4F5" stroke-width="1.5"/>
<rect x="413.40" y="651.30" width="4.6" height="4.0" fill="#fff" stroke="#B48AF5" stroke-width="1.5"/>
<rect x="461.90" y="642.92" width="4.6" height="4.0" fill="#fff" stroke="#B48AF5" stroke-width="1.5"/>
<rect x="413.40" y="649.09" width="4.6" height="4.0" fill="#fff" stroke="#4B1A9B" stroke-width="1.5"/>
<rect x="461.90" y="647.33" width="4.6" height="4.0" fill="#fff" stroke="#4B1A9B" stroke-width="1.5"/>
<rect x="413.40" y="652.62" width="4.6" height="4.0" fill="#fff" stroke="#1E8E8E" stroke-width="1.5"/>
<rect x="461.90" y="536.72" width="4.6" height="4.0" fill="#fff" stroke="#1E8E8E" stroke-width="1.5"/>
<rect x="413.40" y="647.33" width="4.6" height="4.0" fill="#fff" stroke="#151515" stroke-width="1.5"/>
<rect x="461.90" y="647.33" width="4.6" height="4.0" fill="#fff" stroke="#151515" stroke-width="1.5"/>
<rect x="413.40" y="653.06" width="4.6" height="4.0" fill="#fff" stroke="#F03C7E" stroke-width="1.5"/>
<rect x="461.90" y="531.44" width="4.6" height="4.0" fill="#fff" stroke="#F03C7E" stroke-width="1.5"/>
<line x1="555.50" y1="523.30" x2="555.50" y2="654.70" stroke="#5a5a5a" stroke-width="0.85" />
<line x1="555.50" y1="654.70" x2="651.00" y2="654.70" stroke="#5a5a5a" stroke-width="0.85" />
<line x1="553.50" y1="654.70" x2="555.50" y2="654.70" stroke="#5a5a5a" stroke-width="0.85" />
<text x="552.60" y="657.15" font-size="6.1" text-anchor="end" font-weight="bold" fill="#111" >0</text>
<line x1="553.50" y1="621.85" x2="555.50" y2="621.85" stroke="#5a5a5a" stroke-width="0.85" />
<text x="552.60" y="624.30" font-size="6.1" text-anchor="end" font-weight="bold" fill="#111" >10</text>
<line x1="553.50" y1="589.00" x2="555.50" y2="589.00" stroke="#5a5a5a" stroke-width="0.85" />
<text x="552.60" y="591.45" font-size="6.1" text-anchor="end" font-weight="bold" fill="#111" >20</text>
<line x1="553.50" y1="556.15" x2="555.50" y2="556.15" stroke="#5a5a5a" stroke-width="0.85" />
<text x="552.60" y="558.60" font-size="6.1" text-anchor="end" font-weight="bold" fill="#111" >30</text>
<line x1="553.50" y1="523.30" x2="555.50" y2="523.30" stroke="#5a5a5a" stroke-width="0.85" />
<text x="552.60" y="525.75" font-size="6.1" text-anchor="end" font-weight="bold" fill="#111" >40</text>
<line x1="579.00" y1="654.70" x2="579.00" y2="656.70" stroke="#5a5a5a" stroke-width="0.85" />
<line x1="627.00" y1="654.70" x2="627.00" y2="656.70" stroke="#5a5a5a" stroke-width="0.85" />
<text x="579.00" y="665.00" font-size="8.7" text-anchor="middle" font-weight="bold" fill="#111" textLength="9.4" lengthAdjust="spacingAndGlyphs">T0</text>
<text x="628.20" y="665.00" font-size="8.7" text-anchor="middle" font-weight="bold" fill="#111" textLength="9.4" lengthAdjust="spacingAndGlyphs">T1</text>
<text transform="translate(536.5,589.8) rotate(-90)" font-size="5.9" text-anchor="middle" fill="#000" stroke="#000" stroke-width="0.08" textLength="40.1" lengthAdjust="spacingAndGlyphs">Normalized MFI</text>
<text x="559.00" y="533.20" font-size="5.6" text-anchor="start" font-weight="bold" fill="#111" >LPHC 111</text>
<text x="559.00" y="540.20" font-size="5.6" text-anchor="start" font-weight="bold" fill="#111" >Male</text>
<text x="559.00" y="547.20" font-size="5.6" text-anchor="start" font-weight="bold" fill="#111" >47 y.o</text>
<line x1="651.50" y1="523.70" x2="659.50" y2="523.70" stroke="#F03C7E" stroke-width="1" />
<rect x="653.20" y="521.70" width="4.6" height="4.0" fill="#fff" stroke="#F03C7E" stroke-width="1.5"/>
<text x="661.50" y="526.30" font-size="6" text-anchor="start" font-weight="normal" fill="#111" stroke="#111" stroke-width="0.1">B6R</text>
<line x1="651.50" y1="530.90" x2="659.50" y2="530.90" stroke="#151515" stroke-width="1" />
<rect x="653.20" y="528.90" width="4.6" height="4.0" fill="#fff" stroke="#151515" stroke-width="1.5"/>
<text x="661.50" y="533.50" font-size="6" text-anchor="start" font-weight="normal" fill="#111" stroke="#111" stroke-width="0.1">A29L</text>
<line x1="651.50" y1="538.10" x2="659.50" y2="538.10" stroke="#1E8E8E" stroke-width="1" />
<rect x="653.20" y="536.10" width="4.6" height="4.0" fill="#fff" stroke="#1E8E8E" stroke-width="1.5"/>
<text x="661.50" y="540.70" font-size="6" text-anchor="start" font-weight="normal" fill="#111" stroke="#111" stroke-width="0.1">A35R</text>
<line x1="651.50" y1="545.30" x2="659.50" y2="545.30" stroke="#4B1A9B" stroke-width="1" />
<rect x="653.20" y="543.30" width="4.6" height="4.0" fill="#fff" stroke="#4B1A9B" stroke-width="1.5"/>
<text x="661.50" y="547.90" font-size="6" text-anchor="start" font-weight="normal" fill="#111" stroke="#111" stroke-width="0.1">D6L</text>
<line x1="651.50" y1="552.50" x2="659.50" y2="552.50" stroke="#B48AF5" stroke-width="1" />
<rect x="653.20" y="550.50" width="4.6" height="4.0" fill="#fff" stroke="#B48AF5" stroke-width="1.5"/>
<text x="661.50" y="555.10" font-size="6" text-anchor="start" font-weight="normal" fill="#111" stroke="#111" stroke-width="0.1">H3L</text>
<line x1="651.50" y1="559.70" x2="659.50" y2="559.70" stroke="#80D4F5" stroke-width="1" />
<rect x="653.20" y="557.70" width="4.6" height="4.0" fill="#fff" stroke="#80D4F5" stroke-width="1.5"/>
<text x="661.50" y="562.30" font-size="6" text-anchor="start" font-weight="normal" fill="#111" stroke="#111" stroke-width="0.1">M1R</text>
<line x1="579.00" y1="653.71" x2="627.00" y2="653.06" stroke="#80D4F5" stroke-width="1.5" stroke-dasharray="1.5 1.8"/>
<line x1="579.00" y1="653.71" x2="627.00" y2="650.43" stroke="#B48AF5" stroke-width="1.5" stroke-dasharray="1.5 1.8"/>
<line x1="579.00" y1="653.71" x2="627.00" y2="653.39" stroke="#4B1A9B" stroke-width="1.5" stroke-dasharray="1.5 1.8"/>
<line x1="579.00" y1="653.71" x2="627.00" y2="547.94" stroke="#1E8E8E" stroke-width="1.5" stroke-dasharray="1.5 1.8"/>
<line x1="579.00" y1="653.71" x2="627.00" y2="653.39" stroke="#151515" stroke-width="1.5" stroke-dasharray="1.5 1.8"/>
<line x1="579.00" y1="653.71" x2="627.00" y2="552.21" stroke="#F03C7E" stroke-width="1.5" stroke-dasharray="1.5 1.8"/>
<rect x="576.70" y="651.71" width="4.6" height="4.0" fill="#fff" stroke="#80D4F5" stroke-width="1.5"/>
<rect x="624.70" y="651.06" width="4.6" height="4.0" fill="#fff" stroke="#80D4F5" stroke-width="1.5"/>
<rect x="576.70" y="651.71" width="4.6" height="4.0" fill="#fff" stroke="#B48AF5" stroke-width="1.5"/>
<rect x="624.70" y="648.43" width="4.6" height="4.0" fill="#fff" stroke="#B48AF5" stroke-width="1.5"/>
<rect x="576.70" y="651.71" width="4.6" height="4.0" fill="#fff" stroke="#4B1A9B" stroke-width="1.5"/>
<rect x="624.70" y="651.39" width="4.6" height="4.0" fill="#fff" stroke="#4B1A9B" stroke-width="1.5"/>
<rect x="576.70" y="651.71" width="4.6" height="4.0" fill="#fff" stroke="#1E8E8E" stroke-width="1.5"/>
<rect x="624.70" y="545.94" width="4.6" height="4.0" fill="#fff" stroke="#1E8E8E" stroke-width="1.5"/>
<rect x="576.70" y="651.71" width="4.6" height="4.0" fill="#fff" stroke="#151515" stroke-width="1.5"/>
<rect x="624.70" y="651.39" width="4.6" height="4.0" fill="#fff" stroke="#151515" stroke-width="1.5"/>
<rect x="576.70" y="651.71" width="4.6" height="4.0" fill="#fff" stroke="#F03C7E" stroke-width="1.5"/>
<rect x="624.70" y="550.21" width="4.6" height="4.0" fill="#fff" stroke="#F03C7E" stroke-width="1.5"/>
<line x1="394.30" y1="675.40" x2="394.30" y2="806.20" stroke="#5a5a5a" stroke-width="0.85" />
<line x1="394.30" y1="806.20" x2="489.20" y2="806.20" stroke="#5a5a5a" stroke-width="0.85" />
<line x1="392.30" y1="806.20" x2="394.30" y2="806.20" stroke="#5a5a5a" stroke-width="0.85" />
<text x="391.40" y="808.65" font-size="6.1" text-anchor="end" font-weight="bold" fill="#111" >0</text>
<line x1="392.30" y1="773.50" x2="394.30" y2="773.50" stroke="#5a5a5a" stroke-width="0.85" />
<text x="391.40" y="775.95" font-size="6.1" text-anchor="end" font-weight="bold" fill="#111" >2000</text>
<line x1="392.30" y1="740.80" x2="394.30" y2="740.80" stroke="#5a5a5a" stroke-width="0.85" />
<text x="391.40" y="743.25" font-size="6.1" text-anchor="end" font-weight="bold" fill="#111" >4000</text>
<line x1="392.30" y1="708.10" x2="394.30" y2="708.10" stroke="#5a5a5a" stroke-width="0.85" />
<text x="391.40" y="710.55" font-size="6.1" text-anchor="end" font-weight="bold" fill="#111" >6000</text>
<line x1="392.30" y1="675.40" x2="394.30" y2="675.40" stroke="#5a5a5a" stroke-width="0.85" />
<text x="391.40" y="677.85" font-size="6.1" text-anchor="end" font-weight="bold" fill="#111" >8000</text>
<line x1="417.50" y1="806.20" x2="417.50" y2="808.20" stroke="#5a5a5a" stroke-width="0.85" />
<line x1="465.00" y1="806.20" x2="465.00" y2="808.20" stroke="#5a5a5a" stroke-width="0.85" />
<text x="417.50" y="815.00" font-size="8.7" text-anchor="middle" font-weight="bold" fill="#111" textLength="9.4" lengthAdjust="spacingAndGlyphs">T0</text>
<text x="466.20" y="815.00" font-size="8.7" text-anchor="middle" font-weight="bold" fill="#111" textLength="9.4" lengthAdjust="spacingAndGlyphs">T1</text>
<text transform="translate(373.8,746.8) rotate(-90)" font-size="5.75" font-weight="bold" text-anchor="middle" fill="#111">MFI</text>
<text x="398.00" y="685.00" font-size="5.6" text-anchor="start" font-weight="bold" fill="#111" >LPHC 112</text>
<text x="398.00" y="692.00" font-size="5.6" text-anchor="start" font-weight="bold" fill="#111" >Male</text>
<text x="398.00" y="699.00" font-size="5.6" text-anchor="start" font-weight="bold" fill="#111" >40 y.o</text>
<line x1="489.70" y1="675.50" x2="497.70" y2="675.50" stroke="#F03C7E" stroke-width="1" />
<rect x="491.40" y="673.50" width="4.6" height="4.0" fill="#fff" stroke="#F03C7E" stroke-width="1.5"/>
<text x="499.70" y="678.10" font-size="6" text-anchor="start" font-weight="normal" fill="#111" stroke="#111" stroke-width="0.1">B6R</text>
<line x1="489.70" y1="682.70" x2="497.70" y2="682.70" stroke="#151515" stroke-width="1" />
<rect x="491.40" y="680.70" width="4.6" height="4.0" fill="#fff" stroke="#151515" stroke-width="1.5"/>
<text x="499.70" y="685.30" font-size="6" text-anchor="start" font-weight="normal" fill="#111" stroke="#111" stroke-width="0.1">A29L</text>
<line x1="489.70" y1="689.90" x2="497.70" y2="689.90" stroke="#1E8E8E" stroke-width="1" />
<rect x="491.40" y="687.90" width="4.6" height="4.0" fill="#fff" stroke="#1E8E8E" stroke-width="1.5"/>
<text x="499.70" y="692.50" font-size="6" text-anchor="start" font-weight="normal" fill="#111" stroke="#111" stroke-width="0.1">A35R</text>
<line x1="489.70" y1="697.10" x2="497.70" y2="697.10" stroke="#4B1A9B" stroke-width="1" />
<rect x="491.40" y="695.10" width="4.6" height="4.0" fill="#fff" stroke="#4B1A9B" stroke-width="1.5"/>
<text x="499.70" y="699.70" font-size="6" text-anchor="start" font-weight="normal" fill="#111" stroke="#111" stroke-width="0.1">D6L</text>
<line x1="489.70" y1="704.30" x2="497.70" y2="704.30" stroke="#B48AF5" stroke-width="1" />
<rect x="491.40" y="702.30" width="4.6" height="4.0" fill="#fff" stroke="#B48AF5" stroke-width="1.5"/>
<text x="499.70" y="706.90" font-size="6" text-anchor="start" font-weight="normal" fill="#111" stroke="#111" stroke-width="0.1">H3L</text>
<line x1="489.70" y1="711.50" x2="497.70" y2="711.50" stroke="#80D4F5" stroke-width="1" />
<rect x="491.40" y="709.50" width="4.6" height="4.0" fill="#fff" stroke="#80D4F5" stroke-width="1.5"/>
<text x="499.70" y="714.10" font-size="6" text-anchor="start" font-weight="normal" fill="#111" stroke="#111" stroke-width="0.1">M1R</text>
<line x1="417.50" y1="801.30" x2="465.00" y2="773.66" stroke="#80D4F5" stroke-width="1.5" stroke-dasharray="1.5 1.8"/>
<line x1="417.50" y1="791.49" x2="465.00" y2="737.28" stroke="#B48AF5" stroke-width="1.5" stroke-dasharray="1.5 1.8"/>
<line x1="417.50" y1="792.96" x2="465.00" y2="735.24" stroke="#4B1A9B" stroke-width="1.5" stroke-dasharray="1.5 1.8"/>
<line x1="417.50" y1="782.49" x2="465.00" y2="685.21" stroke="#1E8E8E" stroke-width="1.5" stroke-dasharray="1.5 1.8"/>
<line x1="417.50" y1="787.40" x2="465.00" y2="731.48" stroke="#151515" stroke-width="1.5" stroke-dasharray="1.5 1.8"/>
<line x1="417.50" y1="797.45" x2="465.00" y2="708.26" stroke="#F03C7E" stroke-width="1.5" stroke-dasharray="1.5 1.8"/>
<rect x="415.20" y="799.30" width="4.6" height="4.0" fill="#fff" stroke="#80D4F5" stroke-width="1.5"/>
<rect x="462.70" y="771.66" width="4.6" height="4.0" fill="#fff" stroke="#80D4F5" stroke-width="1.5"/>
<rect x="415.20" y="789.49" width="4.6" height="4.0" fill="#fff" stroke="#B48AF5" stroke-width="1.5"/>
<rect x="462.70" y="735.28" width="4.6" height="4.0" fill="#fff" stroke="#B48AF5" stroke-width="1.5"/>
<rect x="415.20" y="790.96" width="4.6" height="4.0" fill="#fff" stroke="#4B1A9B" stroke-width="1.5"/>
<rect x="462.70" y="733.24" width="4.6" height="4.0" fill="#fff" stroke="#4B1A9B" stroke-width="1.5"/>
<rect x="415.20" y="780.49" width="4.6" height="4.0" fill="#fff" stroke="#1E8E8E" stroke-width="1.5"/>
<rect x="462.70" y="683.21" width="4.6" height="4.0" fill="#fff" stroke="#1E8E8E" stroke-width="1.5"/>
<rect x="415.20" y="785.40" width="4.6" height="4.0" fill="#fff" stroke="#151515" stroke-width="1.5"/>
<rect x="462.70" y="729.48" width="4.6" height="4.0" fill="#fff" stroke="#151515" stroke-width="1.5"/>
<rect x="415.20" y="795.45" width="4.6" height="4.0" fill="#fff" stroke="#F03C7E" stroke-width="1.5"/>
<rect x="462.70" y="706.26" width="4.6" height="4.0" fill="#fff" stroke="#F03C7E" stroke-width="1.5"/>
<line x1="553.90" y1="678.90" x2="553.90" y2="805.70" stroke="#5a5a5a" stroke-width="0.85" />
<line x1="553.90" y1="805.70" x2="645.70" y2="805.70" stroke="#5a5a5a" stroke-width="0.85" />
<line x1="551.90" y1="805.70" x2="553.90" y2="805.70" stroke="#5a5a5a" stroke-width="0.85" />
<text x="551.00" y="808.15" font-size="6.1" text-anchor="end" font-weight="bold" fill="#111" >0</text>
<line x1="551.90" y1="780.34" x2="553.90" y2="780.34" stroke="#5a5a5a" stroke-width="0.85" />
<text x="551.00" y="782.79" font-size="6.1" text-anchor="end" font-weight="bold" fill="#111" >2</text>
<line x1="551.90" y1="754.98" x2="553.90" y2="754.98" stroke="#5a5a5a" stroke-width="0.85" />
<text x="551.00" y="757.43" font-size="6.1" text-anchor="end" font-weight="bold" fill="#111" >4</text>
<line x1="551.90" y1="729.62" x2="553.90" y2="729.62" stroke="#5a5a5a" stroke-width="0.85" />
<text x="551.00" y="732.07" font-size="6.1" text-anchor="end" font-weight="bold" fill="#111" >6</text>
<line x1="551.90" y1="704.26" x2="553.90" y2="704.26" stroke="#5a5a5a" stroke-width="0.85" />
<text x="551.00" y="706.71" font-size="6.1" text-anchor="end" font-weight="bold" fill="#111" >8</text>
<line x1="551.90" y1="678.90" x2="553.90" y2="678.90" stroke="#5a5a5a" stroke-width="0.85" />
<text x="551.00" y="681.35" font-size="6.1" text-anchor="end" font-weight="bold" fill="#111" >10</text>
<line x1="577.00" y1="805.70" x2="577.00" y2="807.70" stroke="#5a5a5a" stroke-width="0.85" />
<line x1="622.70" y1="805.70" x2="622.70" y2="807.70" stroke="#5a5a5a" stroke-width="0.85" />
<text x="577.00" y="815.00" font-size="8.7" text-anchor="middle" font-weight="bold" fill="#111" textLength="9.4" lengthAdjust="spacingAndGlyphs">T0</text>
<text x="623.90" y="815.00" font-size="8.7" text-anchor="middle" font-weight="bold" fill="#111" textLength="9.4" lengthAdjust="spacingAndGlyphs">T1</text>
<text transform="translate(533.8,748) rotate(-90)" font-size="5.9" text-anchor="middle" fill="#000" stroke="#000" stroke-width="0.08" textLength="39.7" lengthAdjust="spacingAndGlyphs">Normalized MFI</text>
<text x="557.20" y="685.70" font-size="5.6" text-anchor="start" font-weight="bold" fill="#111" >LPHC 112</text>
<text x="557.20" y="692.70" font-size="5.6" text-anchor="start" font-weight="bold" fill="#111" >Male</text>
<text x="557.20" y="699.70" font-size="5.6" text-anchor="start" font-weight="bold" fill="#111" >40 y.o</text>
<line x1="646.20" y1="678.20" x2="654.20" y2="678.20" stroke="#F03C7E" stroke-width="1" />
<rect x="647.90" y="676.20" width="4.6" height="4.0" fill="#fff" stroke="#F03C7E" stroke-width="1.5"/>
<text x="656.20" y="680.80" font-size="6" text-anchor="start" font-weight="normal" fill="#111" stroke="#111" stroke-width="0.1">B6R</text>
<line x1="646.20" y1="685.20" x2="654.20" y2="685.20" stroke="#151515" stroke-width="1" />
<rect x="647.90" y="683.20" width="4.6" height="4.0" fill="#fff" stroke="#151515" stroke-width="1.5"/>
<text x="656.20" y="687.80" font-size="6" text-anchor="start" font-weight="normal" fill="#111" stroke="#111" stroke-width="0.1">A29L</text>
<line x1="646.20" y1="692.20" x2="654.20" y2="692.20" stroke="#1E8E8E" stroke-width="1" />
<rect x="647.90" y="690.20" width="4.6" height="4.0" fill="#fff" stroke="#1E8E8E" stroke-width="1.5"/>
<text x="656.20" y="694.80" font-size="6" text-anchor="start" font-weight="normal" fill="#111" stroke="#111" stroke-width="0.1">A35R</text>
<line x1="646.20" y1="699.20" x2="654.20" y2="699.20" stroke="#4B1A9B" stroke-width="1" />
<rect x="647.90" y="697.20" width="4.6" height="4.0" fill="#fff" stroke="#4B1A9B" stroke-width="1.5"/>
<text x="656.20" y="701.80" font-size="6" text-anchor="start" font-weight="normal" fill="#111" stroke="#111" stroke-width="0.1">D6L</text>
<line x1="646.20" y1="706.20" x2="654.20" y2="706.20" stroke="#B48AF5" stroke-width="1" />
<rect x="647.90" y="704.20" width="4.6" height="4.0" fill="#fff" stroke="#B48AF5" stroke-width="1.5"/>
<text x="656.20" y="708.80" font-size="6" text-anchor="start" font-weight="normal" fill="#111" stroke="#111" stroke-width="0.1">H3L</text>
<line x1="646.20" y1="713.20" x2="654.20" y2="713.20" stroke="#80D4F5" stroke-width="1" />
<rect x="647.90" y="711.20" width="4.6" height="4.0" fill="#fff" stroke="#80D4F5" stroke-width="1.5"/>
<text x="656.20" y="715.80" font-size="6" text-anchor="start" font-weight="normal" fill="#111" stroke="#111" stroke-width="0.1">M1R</text>
<line x1="577.00" y1="801.26" x2="622.70" y2="782.88" stroke="#80D4F5" stroke-width="1.5" stroke-dasharray="1.5 1.8"/>
<line x1="577.00" y1="795.56" x2="622.70" y2="776.54" stroke="#B48AF5" stroke-width="1.5" stroke-dasharray="1.5 1.8"/>
<line x1="577.00" y1="799.36" x2="622.70" y2="774.00" stroke="#4B1A9B" stroke-width="1.5" stroke-dasharray="1.5 1.8"/>
<line x1="577.00" y1="783.26" x2="622.70" y2="691.58" stroke="#1E8E8E" stroke-width="1.5" stroke-dasharray="1.5 1.8"/>
<line x1="577.00" y1="801.90" x2="622.70" y2="789.22" stroke="#151515" stroke-width="1.5" stroke-dasharray="1.5 1.8"/>
<line x1="577.00" y1="798.09" x2="622.70" y2="719.48" stroke="#F03C7E" stroke-width="1.5" stroke-dasharray="1.5 1.8"/>
<rect x="574.70" y="799.26" width="4.6" height="4.0" fill="#fff" stroke="#80D4F5" stroke-width="1.5"/>
<rect x="620.40" y="780.88" width="4.6" height="4.0" fill="#fff" stroke="#80D4F5" stroke-width="1.5"/>
<rect x="574.70" y="793.56" width="4.6" height="4.0" fill="#fff" stroke="#B48AF5" stroke-width="1.5"/>
<rect x="620.40" y="774.54" width="4.6" height="4.0" fill="#fff" stroke="#B48AF5" stroke-width="1.5"/>
<rect x="574.70" y="797.36" width="4.6" height="4.0" fill="#fff" stroke="#4B1A9B" stroke-width="1.5"/>
<rect x="620.40" y="772.00" width="4.6" height="4.0" fill="#fff" stroke="#4B1A9B" stroke-width="1.5"/>
<rect x="574.70" y="781.26" width="4.6" height="4.0" fill="#fff" stroke="#1E8E8E" stroke-width="1.5"/>
<rect x="620.40" y="689.58" width="4.6" height="4.0" fill="#fff" stroke="#1E8E8E" stroke-width="1.5"/>
<rect x="574.70" y="799.90" width="4.6" height="4.0" fill="#fff" stroke="#151515" stroke-width="1.5"/>
<rect x="620.40" y="787.22" width="4.6" height="4.0" fill="#fff" stroke="#151515" stroke-width="1.5"/>
<rect x="574.70" y="796.09" width="4.6" height="4.0" fill="#fff" stroke="#F03C7E" stroke-width="1.5"/>
<rect x="620.40" y="717.48" width="4.6" height="4.0" fill="#fff" stroke="#F03C7E" stroke-width="1.5"/>
</svg></body></html>
